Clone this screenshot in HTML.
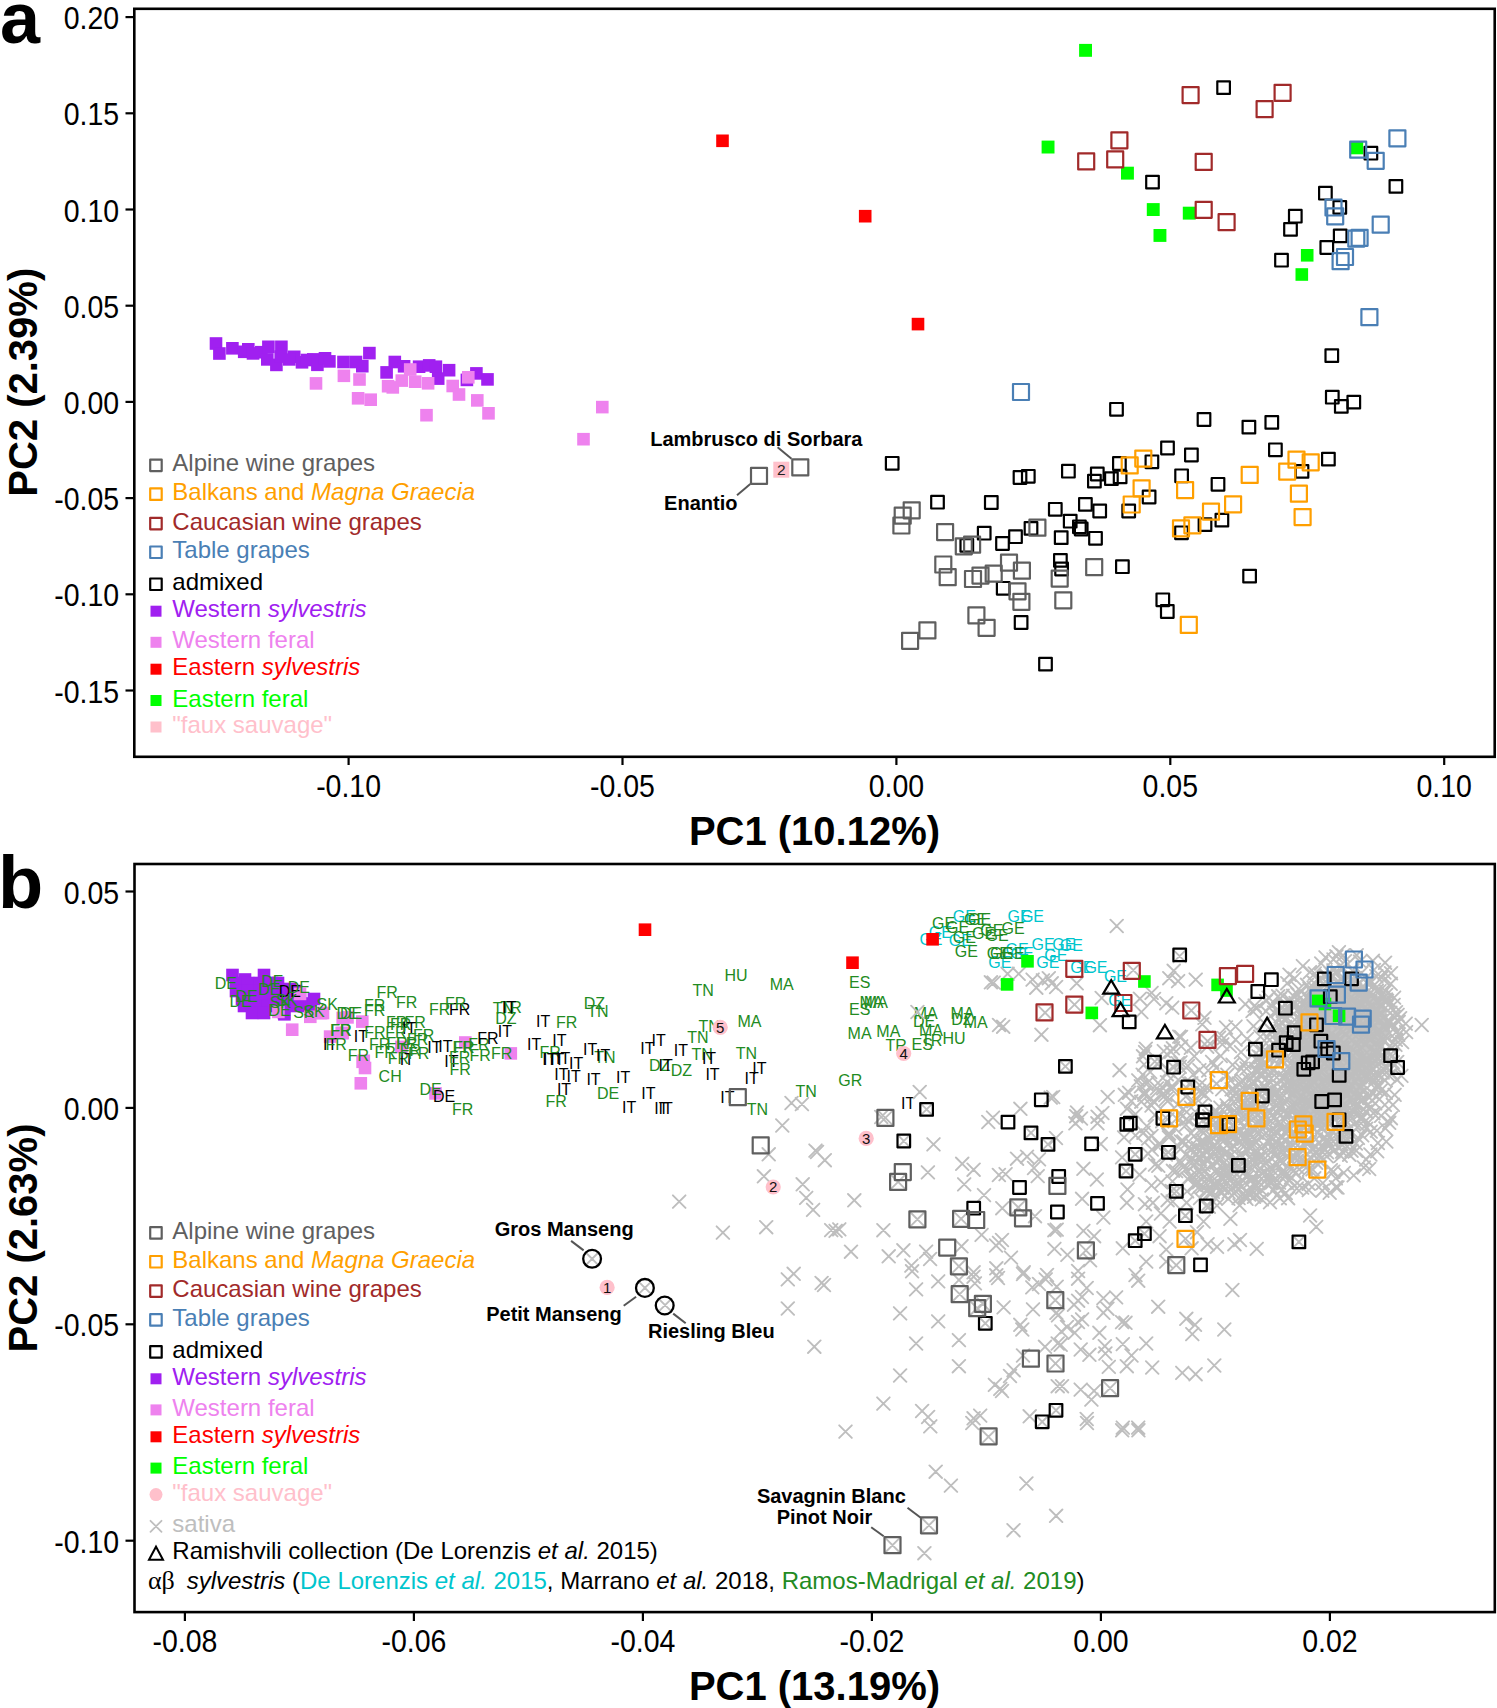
<!DOCTYPE html>
<html><head><meta charset="utf-8"><style>
html,body{margin:0;padding:0;background:#fff;}
svg{display:block;font-family:"Liberation Sans", sans-serif;}
</style></head><body>
<svg width="1497" height="1708" viewBox="0 0 1497 1708">
<rect width="1497" height="1708" fill="#fff"/>
<text x="0" y="42.5" font-size="72" fill="#000" text-anchor="start" font-weight="bold" font-style="normal" >a</text>
<text x="-2" y="907.5" font-size="74" fill="#000" text-anchor="start" font-weight="bold" font-style="normal" >b</text>
<rect x="134.3" y="8.8" width="1360.4" height="748" fill="none" stroke="#000" stroke-width="2.6"/>
<line x1="125.5" x2="134" y1="17.1" y2="17.1" stroke="#000" stroke-width="2.2"/>
<text x="0" y="0" font-size="28.5" text-anchor="end" transform="translate(119.2,29.1) scale(1,1.1)">0.20</text>
<line x1="125.5" x2="134" y1="113.3" y2="113.3" stroke="#000" stroke-width="2.2"/>
<text x="0" y="0" font-size="28.5" text-anchor="end" transform="translate(119.2,125.3) scale(1,1.1)">0.15</text>
<line x1="125.5" x2="134" y1="209.5" y2="209.5" stroke="#000" stroke-width="2.2"/>
<text x="0" y="0" font-size="28.5" text-anchor="end" transform="translate(119.2,221.5) scale(1,1.1)">0.10</text>
<line x1="125.5" x2="134" y1="305.7" y2="305.7" stroke="#000" stroke-width="2.2"/>
<text x="0" y="0" font-size="28.5" text-anchor="end" transform="translate(119.2,317.7) scale(1,1.1)">0.05</text>
<line x1="125.5" x2="134" y1="401.9" y2="401.9" stroke="#000" stroke-width="2.2"/>
<text x="0" y="0" font-size="28.5" text-anchor="end" transform="translate(119.2,413.9) scale(1,1.1)">0.00</text>
<line x1="125.5" x2="134" y1="498.1" y2="498.1" stroke="#000" stroke-width="2.2"/>
<text x="0" y="0" font-size="28.5" text-anchor="end" transform="translate(119.2,510.1) scale(1,1.1)">-0.05</text>
<line x1="125.5" x2="134" y1="594.3" y2="594.3" stroke="#000" stroke-width="2.2"/>
<text x="0" y="0" font-size="28.5" text-anchor="end" transform="translate(119.2,606.3) scale(1,1.1)">-0.10</text>
<line x1="125.5" x2="134" y1="690.5" y2="690.5" stroke="#000" stroke-width="2.2"/>
<text x="0" y="0" font-size="28.5" text-anchor="end" transform="translate(119.2,702.5) scale(1,1.1)">-0.15</text>
<line x1="348.6" x2="348.6" y1="757" y2="765" stroke="#000" stroke-width="2.2"/>
<text x="0" y="0" font-size="28.5" text-anchor="middle" transform="translate(348.6,797.3) scale(1,1.1)">-0.10</text>
<line x1="622.5" x2="622.5" y1="757" y2="765" stroke="#000" stroke-width="2.2"/>
<text x="0" y="0" font-size="28.5" text-anchor="middle" transform="translate(622.5,797.3) scale(1,1.1)">-0.05</text>
<line x1="896.4" x2="896.4" y1="757" y2="765" stroke="#000" stroke-width="2.2"/>
<text x="0" y="0" font-size="28.5" text-anchor="middle" transform="translate(896.4,797.3) scale(1,1.1)">0.00</text>
<line x1="1170.3" x2="1170.3" y1="757" y2="765" stroke="#000" stroke-width="2.2"/>
<text x="0" y="0" font-size="28.5" text-anchor="middle" transform="translate(1170.3,797.3) scale(1,1.1)">0.05</text>
<line x1="1444.2" x2="1444.2" y1="757" y2="765" stroke="#000" stroke-width="2.2"/>
<text x="0" y="0" font-size="28.5" text-anchor="middle" transform="translate(1444.2,797.3) scale(1,1.1)">0.10</text>
<text x="814.5" y="844.6" font-size="40" fill="#000" text-anchor="middle" font-weight="bold" font-style="normal" >PC1 (10.12%)</text>
<text x="0" y="0" font-size="40" font-weight="bold" text-anchor="middle" transform="translate(37.1,382.3) rotate(-90)">PC2 (2.39%)</text>
<rect x="134.5" y="864" width="1360.3" height="748.1" fill="none" stroke="#000" stroke-width="2.6"/>
<line x1="125.5" x2="134" y1="891.5" y2="891.5" stroke="#000" stroke-width="2.2"/>
<text x="0" y="0" font-size="28.5" text-anchor="end" transform="translate(119.2,903.5) scale(1,1.1)">0.05</text>
<line x1="125.5" x2="134" y1="1107.9" y2="1107.9" stroke="#000" stroke-width="2.2"/>
<text x="0" y="0" font-size="28.5" text-anchor="end" transform="translate(119.2,1119.9) scale(1,1.1)">0.00</text>
<line x1="125.5" x2="134" y1="1324.3" y2="1324.3" stroke="#000" stroke-width="2.2"/>
<text x="0" y="0" font-size="28.5" text-anchor="end" transform="translate(119.2,1336.3) scale(1,1.1)">-0.05</text>
<line x1="125.5" x2="134" y1="1540.7" y2="1540.7" stroke="#000" stroke-width="2.2"/>
<text x="0" y="0" font-size="28.5" text-anchor="end" transform="translate(119.2,1552.7) scale(1,1.1)">-0.10</text>
<line x1="184.9" x2="184.9" y1="1613" y2="1621" stroke="#000" stroke-width="2.2"/>
<text x="0" y="0" font-size="28.5" text-anchor="middle" transform="translate(184.9,1652.3) scale(1,1.1)">-0.08</text>
<line x1="413.9" x2="413.9" y1="1613" y2="1621" stroke="#000" stroke-width="2.2"/>
<text x="0" y="0" font-size="28.5" text-anchor="middle" transform="translate(413.9,1652.3) scale(1,1.1)">-0.06</text>
<line x1="642.9" x2="642.9" y1="1613" y2="1621" stroke="#000" stroke-width="2.2"/>
<text x="0" y="0" font-size="28.5" text-anchor="middle" transform="translate(642.9,1652.3) scale(1,1.1)">-0.04</text>
<line x1="871.9" x2="871.9" y1="1613" y2="1621" stroke="#000" stroke-width="2.2"/>
<text x="0" y="0" font-size="28.5" text-anchor="middle" transform="translate(871.9,1652.3) scale(1,1.1)">-0.02</text>
<line x1="1100.9" x2="1100.9" y1="1613" y2="1621" stroke="#000" stroke-width="2.2"/>
<text x="0" y="0" font-size="28.5" text-anchor="middle" transform="translate(1100.9,1652.3) scale(1,1.1)">0.00</text>
<line x1="1329.9" x2="1329.9" y1="1613" y2="1621" stroke="#000" stroke-width="2.2"/>
<text x="0" y="0" font-size="28.5" text-anchor="middle" transform="translate(1329.9,1652.3) scale(1,1.1)">0.02</text>
<text x="814.5" y="1700" font-size="40" fill="#000" text-anchor="middle" font-weight="bold" font-style="normal" >PC1 (13.19%)</text>
<text x="0" y="0" font-size="40" font-weight="bold" text-anchor="middle" transform="translate(36.5,1238) rotate(-90)">PC2 (2.63%)</text>
<rect x="885.9" y="457.0" width="12.6" height="12.6" fill="none" stroke="#000000" stroke-width="2.2" stroke-linejoin="round"/>
<rect x="1013.7" y="471.2" width="12.6" height="12.6" fill="none" stroke="#000000" stroke-width="2.2" stroke-linejoin="round"/>
<rect x="1022.0" y="470.0" width="12.6" height="12.6" fill="none" stroke="#000000" stroke-width="2.2" stroke-linejoin="round"/>
<rect x="931.2" y="495.9" width="12.6" height="12.6" fill="none" stroke="#000000" stroke-width="2.2" stroke-linejoin="round"/>
<rect x="985.0" y="496.2" width="12.6" height="12.6" fill="none" stroke="#000000" stroke-width="2.2" stroke-linejoin="round"/>
<rect x="1049.0" y="503.0" width="12.6" height="12.6" fill="none" stroke="#000000" stroke-width="2.2" stroke-linejoin="round"/>
<rect x="977.9" y="526.9" width="12.6" height="12.6" fill="none" stroke="#000000" stroke-width="2.2" stroke-linejoin="round"/>
<rect x="996.2" y="537.2" width="12.6" height="12.6" fill="none" stroke="#000000" stroke-width="2.2" stroke-linejoin="round"/>
<rect x="1009.2" y="530.4" width="12.6" height="12.6" fill="none" stroke="#000000" stroke-width="2.2" stroke-linejoin="round"/>
<rect x="1024.7" y="522.1" width="12.6" height="12.6" fill="none" stroke="#000000" stroke-width="2.2" stroke-linejoin="round"/>
<rect x="960.5" y="539.1" width="12.6" height="12.6" fill="none" stroke="#000000" stroke-width="2.2" stroke-linejoin="round"/>
<rect x="996.9" y="582.0" width="12.6" height="12.6" fill="none" stroke="#000000" stroke-width="2.2" stroke-linejoin="round"/>
<rect x="1014.8" y="616.2" width="12.6" height="12.6" fill="none" stroke="#000000" stroke-width="2.2" stroke-linejoin="round"/>
<rect x="1039.2" y="657.8" width="12.6" height="12.6" fill="none" stroke="#000000" stroke-width="2.2" stroke-linejoin="round"/>
<rect x="1110.2" y="403.0" width="12.6" height="12.6" fill="none" stroke="#000000" stroke-width="2.2" stroke-linejoin="round"/>
<rect x="1197.7" y="413.2" width="12.6" height="12.6" fill="none" stroke="#000000" stroke-width="2.2" stroke-linejoin="round"/>
<rect x="1161.2" y="441.7" width="12.6" height="12.6" fill="none" stroke="#000000" stroke-width="2.2" stroke-linejoin="round"/>
<rect x="1185.1" y="448.7" width="12.6" height="12.6" fill="none" stroke="#000000" stroke-width="2.2" stroke-linejoin="round"/>
<rect x="1113.1" y="457.2" width="12.6" height="12.6" fill="none" stroke="#000000" stroke-width="2.2" stroke-linejoin="round"/>
<rect x="1145.6" y="455.5" width="12.6" height="12.6" fill="none" stroke="#000000" stroke-width="2.2" stroke-linejoin="round"/>
<rect x="1062.1" y="464.9" width="12.6" height="12.6" fill="none" stroke="#000000" stroke-width="2.2" stroke-linejoin="round"/>
<rect x="1091.0" y="467.7" width="12.6" height="12.6" fill="none" stroke="#000000" stroke-width="2.2" stroke-linejoin="round"/>
<rect x="1088.1" y="474.8" width="12.6" height="12.6" fill="none" stroke="#000000" stroke-width="2.2" stroke-linejoin="round"/>
<rect x="1105.1" y="472.3" width="12.6" height="12.6" fill="none" stroke="#000000" stroke-width="2.2" stroke-linejoin="round"/>
<rect x="1113.8" y="470.6" width="12.6" height="12.6" fill="none" stroke="#000000" stroke-width="2.2" stroke-linejoin="round"/>
<rect x="1175.3" y="469.5" width="12.6" height="12.6" fill="none" stroke="#000000" stroke-width="2.2" stroke-linejoin="round"/>
<rect x="1211.7" y="478.0" width="12.6" height="12.6" fill="none" stroke="#000000" stroke-width="2.2" stroke-linejoin="round"/>
<rect x="1142.8" y="490.7" width="12.6" height="12.6" fill="none" stroke="#000000" stroke-width="2.2" stroke-linejoin="round"/>
<rect x="1079.1" y="498.1" width="12.6" height="12.6" fill="none" stroke="#000000" stroke-width="2.2" stroke-linejoin="round"/>
<rect x="1093.4" y="504.7" width="12.6" height="12.6" fill="none" stroke="#000000" stroke-width="2.2" stroke-linejoin="round"/>
<rect x="1063.9" y="514.9" width="12.6" height="12.6" fill="none" stroke="#000000" stroke-width="2.2" stroke-linejoin="round"/>
<rect x="1073.1" y="520.5" width="12.6" height="12.6" fill="none" stroke="#000000" stroke-width="2.2" stroke-linejoin="round"/>
<rect x="1074.9" y="522.7" width="12.6" height="12.6" fill="none" stroke="#000000" stroke-width="2.2" stroke-linejoin="round"/>
<rect x="1122.4" y="504.7" width="12.6" height="12.6" fill="none" stroke="#000000" stroke-width="2.2" stroke-linejoin="round"/>
<rect x="1054.9" y="531.3" width="12.6" height="12.6" fill="none" stroke="#000000" stroke-width="2.2" stroke-linejoin="round"/>
<rect x="1089.2" y="532.0" width="12.6" height="12.6" fill="none" stroke="#000000" stroke-width="2.2" stroke-linejoin="round"/>
<rect x="1054.1" y="554.1" width="12.6" height="12.6" fill="none" stroke="#000000" stroke-width="2.2" stroke-linejoin="round"/>
<rect x="1055.3" y="562.7" width="12.6" height="12.6" fill="none" stroke="#000000" stroke-width="2.2" stroke-linejoin="round"/>
<rect x="1116.1" y="560.4" width="12.6" height="12.6" fill="none" stroke="#000000" stroke-width="2.2" stroke-linejoin="round"/>
<rect x="1156.5" y="593.5" width="12.6" height="12.6" fill="none" stroke="#000000" stroke-width="2.2" stroke-linejoin="round"/>
<rect x="1161.0" y="605.2" width="12.6" height="12.6" fill="none" stroke="#000000" stroke-width="2.2" stroke-linejoin="round"/>
<rect x="1175.2" y="526.5" width="12.6" height="12.6" fill="none" stroke="#000000" stroke-width="2.2" stroke-linejoin="round"/>
<rect x="1198.7" y="518.3" width="12.6" height="12.6" fill="none" stroke="#000000" stroke-width="2.2" stroke-linejoin="round"/>
<rect x="1215.6" y="513.8" width="12.6" height="12.6" fill="none" stroke="#000000" stroke-width="2.2" stroke-linejoin="round"/>
<rect x="1325.5" y="349.3" width="12.6" height="12.6" fill="none" stroke="#000000" stroke-width="2.2" stroke-linejoin="round"/>
<rect x="1326.0" y="390.9" width="12.6" height="12.6" fill="none" stroke="#000000" stroke-width="2.2" stroke-linejoin="round"/>
<rect x="1335.0" y="400.1" width="12.6" height="12.6" fill="none" stroke="#000000" stroke-width="2.2" stroke-linejoin="round"/>
<rect x="1347.5" y="395.8" width="12.6" height="12.6" fill="none" stroke="#000000" stroke-width="2.2" stroke-linejoin="round"/>
<rect x="1242.6" y="420.8" width="12.6" height="12.6" fill="none" stroke="#000000" stroke-width="2.2" stroke-linejoin="round"/>
<rect x="1265.5" y="416.1" width="12.6" height="12.6" fill="none" stroke="#000000" stroke-width="2.2" stroke-linejoin="round"/>
<rect x="1269.1" y="443.5" width="12.6" height="12.6" fill="none" stroke="#000000" stroke-width="2.2" stroke-linejoin="round"/>
<rect x="1322.1" y="452.8" width="12.6" height="12.6" fill="none" stroke="#000000" stroke-width="2.2" stroke-linejoin="round"/>
<rect x="1295.7" y="465.1" width="12.6" height="12.6" fill="none" stroke="#000000" stroke-width="2.2" stroke-linejoin="round"/>
<rect x="1243.3" y="569.8" width="12.6" height="12.6" fill="none" stroke="#000000" stroke-width="2.2" stroke-linejoin="round"/>
<rect x="903.7" y="502.3" width="16" height="16" fill="none" stroke="#5f5f5f" stroke-width="2.2" stroke-linejoin="round"/>
<rect x="894.7" y="507.7" width="16" height="16" fill="none" stroke="#5f5f5f" stroke-width="2.2" stroke-linejoin="round"/>
<rect x="893.4" y="517.5" width="16" height="16" fill="none" stroke="#5f5f5f" stroke-width="2.2" stroke-linejoin="round"/>
<rect x="937.1" y="524.1" width="16" height="16" fill="none" stroke="#5f5f5f" stroke-width="2.2" stroke-linejoin="round"/>
<rect x="955.8" y="538.3" width="16" height="16" fill="none" stroke="#5f5f5f" stroke-width="2.2" stroke-linejoin="round"/>
<rect x="964.1" y="536.7" width="16" height="16" fill="none" stroke="#5f5f5f" stroke-width="2.2" stroke-linejoin="round"/>
<rect x="1029.4" y="519.7" width="16" height="16" fill="none" stroke="#5f5f5f" stroke-width="2.2" stroke-linejoin="round"/>
<rect x="935.3" y="556.5" width="16" height="16" fill="none" stroke="#5f5f5f" stroke-width="2.2" stroke-linejoin="round"/>
<rect x="939.7" y="569.2" width="16" height="16" fill="none" stroke="#5f5f5f" stroke-width="2.2" stroke-linejoin="round"/>
<rect x="965.0" y="571.0" width="16" height="16" fill="none" stroke="#5f5f5f" stroke-width="2.2" stroke-linejoin="round"/>
<rect x="972.5" y="567.6" width="16" height="16" fill="none" stroke="#5f5f5f" stroke-width="2.2" stroke-linejoin="round"/>
<rect x="985.7" y="565.7" width="16" height="16" fill="none" stroke="#5f5f5f" stroke-width="2.2" stroke-linejoin="round"/>
<rect x="1001.0" y="554.7" width="16" height="16" fill="none" stroke="#5f5f5f" stroke-width="2.2" stroke-linejoin="round"/>
<rect x="1013.9" y="562.7" width="16" height="16" fill="none" stroke="#5f5f5f" stroke-width="2.2" stroke-linejoin="round"/>
<rect x="1009.5" y="583.3" width="16" height="16" fill="none" stroke="#5f5f5f" stroke-width="2.2" stroke-linejoin="round"/>
<rect x="1013.4" y="593.8" width="16" height="16" fill="none" stroke="#5f5f5f" stroke-width="2.2" stroke-linejoin="round"/>
<rect x="968.4" y="607.3" width="16" height="16" fill="none" stroke="#5f5f5f" stroke-width="2.2" stroke-linejoin="round"/>
<rect x="978.6" y="619.8" width="16" height="16" fill="none" stroke="#5f5f5f" stroke-width="2.2" stroke-linejoin="round"/>
<rect x="919.4" y="622.4" width="16" height="16" fill="none" stroke="#5f5f5f" stroke-width="2.2" stroke-linejoin="round"/>
<rect x="902.1" y="632.8" width="16" height="16" fill="none" stroke="#5f5f5f" stroke-width="2.2" stroke-linejoin="round"/>
<rect x="1086.2" y="559.2" width="16" height="16" fill="none" stroke="#5f5f5f" stroke-width="2.2" stroke-linejoin="round"/>
<rect x="1051.7" y="570.6" width="16" height="16" fill="none" stroke="#5f5f5f" stroke-width="2.2" stroke-linejoin="round"/>
<rect x="1055.3" y="592.3" width="16" height="16" fill="none" stroke="#5f5f5f" stroke-width="2.2" stroke-linejoin="round"/>
<rect x="1135.3" y="450.6" width="16" height="16" fill="none" stroke="#ff9f00" stroke-width="2.2" stroke-linejoin="round"/>
<rect x="1121.7" y="457.4" width="16" height="16" fill="none" stroke="#ff9f00" stroke-width="2.2" stroke-linejoin="round"/>
<rect x="1133.6" y="480.3" width="16" height="16" fill="none" stroke="#ff9f00" stroke-width="2.2" stroke-linejoin="round"/>
<rect x="1123.7" y="496.5" width="16" height="16" fill="none" stroke="#ff9f00" stroke-width="2.2" stroke-linejoin="round"/>
<rect x="1177.1" y="482.1" width="16" height="16" fill="none" stroke="#ff9f00" stroke-width="2.2" stroke-linejoin="round"/>
<rect x="1203.0" y="503.7" width="16" height="16" fill="none" stroke="#ff9f00" stroke-width="2.2" stroke-linejoin="round"/>
<rect x="1184.4" y="517.3" width="16" height="16" fill="none" stroke="#ff9f00" stroke-width="2.2" stroke-linejoin="round"/>
<rect x="1173.0" y="520.4" width="16" height="16" fill="none" stroke="#ff9f00" stroke-width="2.2" stroke-linejoin="round"/>
<rect x="1180.8" y="616.9" width="16" height="16" fill="none" stroke="#ff9f00" stroke-width="2.2" stroke-linejoin="round"/>
<rect x="1288.5" y="451.7" width="16" height="16" fill="none" stroke="#ff9f00" stroke-width="2.2" stroke-linejoin="round"/>
<rect x="1302.7" y="454.3" width="16" height="16" fill="none" stroke="#ff9f00" stroke-width="2.2" stroke-linejoin="round"/>
<rect x="1241.7" y="466.9" width="16" height="16" fill="none" stroke="#ff9f00" stroke-width="2.2" stroke-linejoin="round"/>
<rect x="1279.2" y="463.6" width="16" height="16" fill="none" stroke="#ff9f00" stroke-width="2.2" stroke-linejoin="round"/>
<rect x="1290.9" y="485.7" width="16" height="16" fill="none" stroke="#ff9f00" stroke-width="2.2" stroke-linejoin="round"/>
<rect x="1294.6" y="509.1" width="16" height="16" fill="none" stroke="#ff9f00" stroke-width="2.2" stroke-linejoin="round"/>
<rect x="1225.1" y="496.3" width="16" height="16" fill="none" stroke="#ff9f00" stroke-width="2.2" stroke-linejoin="round"/>
<rect x="209.7" y="337.2" width="12.6" height="12.6" fill="#a020f0"/>
<rect x="213.1" y="347.2" width="12.6" height="12.6" fill="#a020f0"/>
<rect x="226.1" y="342.0" width="12.6" height="12.6" fill="#a020f0"/>
<rect x="237.9" y="345.5" width="12.6" height="12.6" fill="#a020f0"/>
<rect x="242.0" y="343.0" width="12.6" height="12.6" fill="#a020f0"/>
<rect x="246.7" y="347.1" width="12.6" height="12.6" fill="#a020f0"/>
<rect x="255.0" y="345.9" width="12.6" height="12.6" fill="#a020f0"/>
<rect x="262.1" y="340.5" width="12.6" height="12.6" fill="#a020f0"/>
<rect x="275.1" y="340.5" width="12.6" height="12.6" fill="#a020f0"/>
<rect x="261.0" y="353.1" width="12.6" height="12.6" fill="#a020f0"/>
<rect x="270.1" y="358.6" width="12.6" height="12.6" fill="#a020f0"/>
<rect x="274.4" y="350.3" width="12.6" height="12.6" fill="#a020f0"/>
<rect x="287.9" y="350.5" width="12.6" height="12.6" fill="#a020f0"/>
<rect x="283.0" y="353.1" width="12.6" height="12.6" fill="#a020f0"/>
<rect x="295.7" y="356.0" width="12.6" height="12.6" fill="#a020f0"/>
<rect x="300.7" y="353.7" width="12.6" height="12.6" fill="#a020f0"/>
<rect x="307.0" y="353.1" width="12.6" height="12.6" fill="#a020f0"/>
<rect x="311.1" y="358.5" width="12.6" height="12.6" fill="#a020f0"/>
<rect x="318.7" y="352.0" width="12.6" height="12.6" fill="#a020f0"/>
<rect x="323.1" y="355.1" width="12.6" height="12.6" fill="#a020f0"/>
<rect x="337.2" y="355.7" width="12.6" height="12.6" fill="#a020f0"/>
<rect x="349.7" y="355.7" width="12.6" height="12.6" fill="#a020f0"/>
<rect x="356.0" y="359.9" width="12.6" height="12.6" fill="#a020f0"/>
<rect x="363.1" y="346.8" width="12.6" height="12.6" fill="#a020f0"/>
<rect x="380.3" y="366.1" width="12.6" height="12.6" fill="#a020f0"/>
<rect x="388.5" y="355.7" width="12.6" height="12.6" fill="#a020f0"/>
<rect x="397.8" y="360.0" width="12.6" height="12.6" fill="#a020f0"/>
<rect x="412.8" y="360.4" width="12.6" height="12.6" fill="#a020f0"/>
<rect x="422.9" y="359.1" width="12.6" height="12.6" fill="#a020f0"/>
<rect x="429.6" y="360.4" width="12.6" height="12.6" fill="#a020f0"/>
<rect x="442.8" y="363.9" width="12.6" height="12.6" fill="#a020f0"/>
<rect x="431.9" y="372.3" width="12.6" height="12.6" fill="#a020f0"/>
<rect x="460.6" y="373.6" width="12.6" height="12.6" fill="#a020f0"/>
<rect x="470.1" y="367.1" width="12.6" height="12.6" fill="#a020f0"/>
<rect x="481.2" y="373.1" width="12.6" height="12.6" fill="#a020f0"/>
<rect x="309.7" y="377.1" width="12.6" height="12.6" fill="#ee82ee"/>
<rect x="337.6" y="369.5" width="12.6" height="12.6" fill="#ee82ee"/>
<rect x="353.2" y="373.2" width="12.6" height="12.6" fill="#ee82ee"/>
<rect x="351.8" y="392.0" width="12.6" height="12.6" fill="#ee82ee"/>
<rect x="364.4" y="393.4" width="12.6" height="12.6" fill="#ee82ee"/>
<rect x="381.8" y="379.9" width="12.6" height="12.6" fill="#ee82ee"/>
<rect x="386.5" y="381.1" width="12.6" height="12.6" fill="#ee82ee"/>
<rect x="395.5" y="374.3" width="12.6" height="12.6" fill="#ee82ee"/>
<rect x="403.9" y="363.2" width="12.6" height="12.6" fill="#ee82ee"/>
<rect x="408.9" y="375.4" width="12.6" height="12.6" fill="#ee82ee"/>
<rect x="421.8" y="377.0" width="12.6" height="12.6" fill="#ee82ee"/>
<rect x="420.2" y="408.9" width="12.6" height="12.6" fill="#ee82ee"/>
<rect x="446.4" y="379.7" width="12.6" height="12.6" fill="#ee82ee"/>
<rect x="452.7" y="388.2" width="12.6" height="12.6" fill="#ee82ee"/>
<rect x="462.0" y="371.0" width="12.6" height="12.6" fill="#ee82ee"/>
<rect x="471.0" y="394.1" width="12.6" height="12.6" fill="#ee82ee"/>
<rect x="482.2" y="407.0" width="12.6" height="12.6" fill="#ee82ee"/>
<rect x="596.0" y="400.8" width="12.6" height="12.6" fill="#ee82ee"/>
<rect x="577.2" y="432.9" width="12.6" height="12.6" fill="#ee82ee"/>
<rect x="716.2" y="134.5" width="12.6" height="12.6" fill="#ff0000"/>
<rect x="858.9" y="209.9" width="12.6" height="12.6" fill="#ff0000"/>
<rect x="911.7" y="317.8" width="12.6" height="12.6" fill="#ff0000"/>
<rect x="1079.1" y="43.9" width="12.9" height="12.9" fill="#00ff00"/>
<rect x="1041.6" y="140.6" width="12.9" height="12.9" fill="#00ff00"/>
<rect x="1121.0" y="166.7" width="12.9" height="12.9" fill="#00ff00"/>
<rect x="1146.8" y="203.1" width="12.9" height="12.9" fill="#00ff00"/>
<rect x="1182.8" y="206.7" width="12.9" height="12.9" fill="#00ff00"/>
<rect x="1153.5" y="229.0" width="12.9" height="12.9" fill="#00ff00"/>
<rect x="1350.6" y="141.7" width="12.6" height="12.6" fill="#00ff00"/>
<rect x="1300.9" y="249.0" width="12.6" height="12.6" fill="#00ff00"/>
<rect x="1295.5" y="268.2" width="12.6" height="12.6" fill="#00ff00"/>
<rect x="1182.6" y="87.1" width="16" height="16" fill="none" stroke="#a12a2a" stroke-width="2.2" stroke-linejoin="round"/>
<rect x="1111.4" y="132.3" width="16" height="16" fill="none" stroke="#a12a2a" stroke-width="2.2" stroke-linejoin="round"/>
<rect x="1078.2" y="153.4" width="16" height="16" fill="none" stroke="#a12a2a" stroke-width="2.2" stroke-linejoin="round"/>
<rect x="1107.2" y="151.4" width="16" height="16" fill="none" stroke="#a12a2a" stroke-width="2.2" stroke-linejoin="round"/>
<rect x="1195.7" y="153.9" width="16" height="16" fill="none" stroke="#a12a2a" stroke-width="2.2" stroke-linejoin="round"/>
<rect x="1195.7" y="201.8" width="16" height="16" fill="none" stroke="#a12a2a" stroke-width="2.2" stroke-linejoin="round"/>
<rect x="1218.6" y="214.2" width="16" height="16" fill="none" stroke="#a12a2a" stroke-width="2.2" stroke-linejoin="round"/>
<rect x="1274.6" y="84.8" width="16" height="16" fill="none" stroke="#a12a2a" stroke-width="2.2" stroke-linejoin="round"/>
<rect x="1256.6" y="101.2" width="16" height="16" fill="none" stroke="#a12a2a" stroke-width="2.2" stroke-linejoin="round"/>
<rect x="1217.3" y="81.3" width="12.6" height="12.6" fill="none" stroke="#000000" stroke-width="2.2" stroke-linejoin="round"/>
<rect x="1146.2" y="175.8" width="12.6" height="12.6" fill="none" stroke="#000000" stroke-width="2.2" stroke-linejoin="round"/>
<rect x="1364.6" y="146.9" width="12.6" height="12.6" fill="none" stroke="#000000" stroke-width="2.2" stroke-linejoin="round"/>
<rect x="1389.6" y="180.1" width="12.6" height="12.6" fill="none" stroke="#000000" stroke-width="2.2" stroke-linejoin="round"/>
<rect x="1319.1" y="186.9" width="12.6" height="12.6" fill="none" stroke="#000000" stroke-width="2.2" stroke-linejoin="round"/>
<rect x="1333.5" y="201.1" width="12.6" height="12.6" fill="none" stroke="#000000" stroke-width="2.2" stroke-linejoin="round"/>
<rect x="1289.0" y="209.9" width="12.6" height="12.6" fill="none" stroke="#000000" stroke-width="2.2" stroke-linejoin="round"/>
<rect x="1284.2" y="223.1" width="12.6" height="12.6" fill="none" stroke="#000000" stroke-width="2.2" stroke-linejoin="round"/>
<rect x="1333.9" y="229.6" width="12.6" height="12.6" fill="none" stroke="#000000" stroke-width="2.2" stroke-linejoin="round"/>
<rect x="1320.5" y="241.2" width="12.6" height="12.6" fill="none" stroke="#000000" stroke-width="2.2" stroke-linejoin="round"/>
<rect x="1275.2" y="253.9" width="12.6" height="12.6" fill="none" stroke="#000000" stroke-width="2.2" stroke-linejoin="round"/>
<rect x="1013.0" y="384.0" width="16" height="16" fill="none" stroke="#4a7fb5" stroke-width="2.2" stroke-linejoin="round"/>
<rect x="1389.4" y="130.3" width="16" height="16" fill="none" stroke="#4a7fb5" stroke-width="2.2" stroke-linejoin="round"/>
<rect x="1350.2" y="141.7" width="16" height="16" fill="none" stroke="#4a7fb5" stroke-width="2.2" stroke-linejoin="round"/>
<rect x="1367.7" y="152.8" width="16" height="16" fill="none" stroke="#4a7fb5" stroke-width="2.2" stroke-linejoin="round"/>
<rect x="1325.5" y="199.5" width="16" height="16" fill="none" stroke="#4a7fb5" stroke-width="2.2" stroke-linejoin="round"/>
<rect x="1327.2" y="208.3" width="16" height="16" fill="none" stroke="#4a7fb5" stroke-width="2.2" stroke-linejoin="round"/>
<rect x="1372.7" y="216.7" width="16" height="16" fill="none" stroke="#4a7fb5" stroke-width="2.2" stroke-linejoin="round"/>
<rect x="1348.3" y="230.6" width="16" height="16" fill="none" stroke="#4a7fb5" stroke-width="2.2" stroke-linejoin="round"/>
<rect x="1351.6" y="229.8" width="16" height="16" fill="none" stroke="#4a7fb5" stroke-width="2.2" stroke-linejoin="round"/>
<rect x="1337.0" y="249.0" width="16" height="16" fill="none" stroke="#4a7fb5" stroke-width="2.2" stroke-linejoin="round"/>
<rect x="1332.6" y="253.2" width="16" height="16" fill="none" stroke="#4a7fb5" stroke-width="2.2" stroke-linejoin="round"/>
<rect x="1361.4" y="309.2" width="16" height="16" fill="none" stroke="#4a7fb5" stroke-width="2.2" stroke-linejoin="round"/>
<line x1="777.6" y1="447.3" x2="791.5" y2="458.8" stroke="#555" stroke-width="2"/>
<line x1="750.3" y1="484" x2="737" y2="495.2" stroke="#555" stroke-width="2"/>
<rect x="792.3" y="459.4" width="16" height="16" fill="none" stroke="#5f5f5f" stroke-width="2.2" stroke-linejoin="round"/>
<rect x="751.0" y="467.9" width="16" height="16" fill="none" stroke="#5f5f5f" stroke-width="2.2" stroke-linejoin="round"/>
<rect x="773.3" y="461.7" width="16" height="16" fill="#ffc0cb"/>
<text x="781.3" y="475.2" font-size="15.5" text-anchor="middle" fill="#222">2</text>
<text x="650.2" y="446" font-size="20" font-weight="bold">Lambrusco di Sorbara</text>
<text x="664.1" y="509.7" font-size="20" font-weight="bold">Enantio</text>
<rect x="226.2" y="968.7" width="12.6" height="12.6" fill="#a020f0"/>
<rect x="257.7" y="968.7" width="12.6" height="12.6" fill="#a020f0"/>
<rect x="238.7" y="973.2" width="12.6" height="12.6" fill="#a020f0"/>
<rect x="269.7" y="977.2" width="12.6" height="12.6" fill="#a020f0"/>
<rect x="283.7" y="982.7" width="12.6" height="12.6" fill="#a020f0"/>
<rect x="229.7" y="976.7" width="12.6" height="12.6" fill="#a020f0"/>
<rect x="241.7" y="976.7" width="12.6" height="12.6" fill="#a020f0"/>
<rect x="253.7" y="976.7" width="12.6" height="12.6" fill="#a020f0"/>
<rect x="265.7" y="976.7" width="12.6" height="12.6" fill="#a020f0"/>
<rect x="271.7" y="976.7" width="12.6" height="12.6" fill="#a020f0"/>
<rect x="229.7" y="984.7" width="12.6" height="12.6" fill="#a020f0"/>
<rect x="241.7" y="984.7" width="12.6" height="12.6" fill="#a020f0"/>
<rect x="253.7" y="984.7" width="12.6" height="12.6" fill="#a020f0"/>
<rect x="265.7" y="984.7" width="12.6" height="12.6" fill="#a020f0"/>
<rect x="277.7" y="984.7" width="12.6" height="12.6" fill="#a020f0"/>
<rect x="289.7" y="984.7" width="12.6" height="12.6" fill="#a020f0"/>
<rect x="235.7" y="992.7" width="12.6" height="12.6" fill="#a020f0"/>
<rect x="247.7" y="992.7" width="12.6" height="12.6" fill="#a020f0"/>
<rect x="259.7" y="992.7" width="12.6" height="12.6" fill="#a020f0"/>
<rect x="271.7" y="992.7" width="12.6" height="12.6" fill="#a020f0"/>
<rect x="283.7" y="992.7" width="12.6" height="12.6" fill="#a020f0"/>
<rect x="293.7" y="992.7" width="12.6" height="12.6" fill="#a020f0"/>
<rect x="237.7" y="999.7" width="12.6" height="12.6" fill="#a020f0"/>
<rect x="249.7" y="999.7" width="12.6" height="12.6" fill="#a020f0"/>
<rect x="261.7" y="999.7" width="12.6" height="12.6" fill="#a020f0"/>
<rect x="273.7" y="999.7" width="12.6" height="12.6" fill="#a020f0"/>
<rect x="285.7" y="999.7" width="12.6" height="12.6" fill="#a020f0"/>
<rect x="297.7" y="999.7" width="12.6" height="12.6" fill="#a020f0"/>
<rect x="303.7" y="999.7" width="12.6" height="12.6" fill="#a020f0"/>
<rect x="245.7" y="1006.7" width="12.6" height="12.6" fill="#a020f0"/>
<rect x="257.7" y="1006.7" width="12.6" height="12.6" fill="#a020f0"/>
<rect x="277.7" y="1006.7" width="12.6" height="12.6" fill="#a020f0"/>
<rect x="303.4" y="997.2" width="12.6" height="12.6" fill="#a020f0"/>
<rect x="307.7" y="992.7" width="12.6" height="12.6" fill="#a020f0"/>
<rect x="278.1" y="1008.0" width="12.6" height="12.6" fill="#a020f0"/>
<rect x="281.7" y="996.0" width="12.6" height="12.6" fill="#a020f0"/>
<rect x="293.7" y="987.6" width="12.6" height="12.6" fill="#ee82ee"/>
<rect x="272.1" y="1005.6" width="12.6" height="12.6" fill="#ee82ee"/>
<rect x="304.0" y="1010.5" width="12.6" height="12.6" fill="#ee82ee"/>
<rect x="314.8" y="1006.8" width="12.6" height="12.6" fill="#ee82ee"/>
<rect x="285.9" y="1023.4" width="12.6" height="12.6" fill="#ee82ee"/>
<rect x="336.4" y="1011.7" width="12.6" height="12.6" fill="#ee82ee"/>
<rect x="341.2" y="1011.1" width="12.6" height="12.6" fill="#ee82ee"/>
<rect x="356.0" y="1015.3" width="12.6" height="12.6" fill="#ee82ee"/>
<rect x="323.8" y="1030.3" width="12.6" height="12.6" fill="#ee82ee"/>
<rect x="336.4" y="1026.7" width="12.6" height="12.6" fill="#ee82ee"/>
<rect x="356.3" y="1055.5" width="12.6" height="12.6" fill="#ee82ee"/>
<rect x="357.5" y="1054.5" width="12.6" height="12.6" fill="#ee82ee"/>
<rect x="358.7" y="1061.7" width="12.6" height="12.6" fill="#ee82ee"/>
<rect x="354.5" y="1077.0" width="12.6" height="12.6" fill="#ee82ee"/>
<rect x="395.1" y="1040.6" width="12.6" height="12.6" fill="#ee82ee"/>
<rect x="459.0" y="1036.2" width="12.6" height="12.6" fill="#ee82ee"/>
<rect x="504.5" y="1047.1" width="12.6" height="12.6" fill="#ee82ee"/>
<rect x="429.2" y="1087.1" width="12.6" height="12.6" fill="#ee82ee"/>
<rect x="316.7" y="1006.7" width="12.6" height="12.6" fill="#ee82ee"/>
<rect x="335.4" y="1026.7" width="12.6" height="12.6" fill="#ee82ee"/>
<text x="214.7" y="988.9" font-size="16" fill="#228b22">DE</text>
<text x="229.5" y="1006.9" font-size="16" fill="#228b22">DE</text>
<text x="235.5" y="1001.5" font-size="16" fill="#228b22">DE</text>
<text x="261.3" y="987.1" font-size="16" fill="#228b22">DE</text>
<text x="258.3" y="994.9" font-size="16" fill="#228b22">DE</text>
<text x="278.8" y="997.3" font-size="16" fill="#000">DE</text>
<text x="287.8" y="992.5" font-size="16" fill="#228b22">DE</text>
<text x="269.7" y="1007.5" font-size="16" fill="#228b22">SK</text>
<text x="276" y="1006" font-size="16" fill="#228b22">SK</text>
<text x="268.5" y="1015.9" font-size="16" fill="#228b22">DE</text>
<text x="293.2" y="1018.3" font-size="16" fill="#228b22">SK</text>
<text x="303.4" y="1016.5" font-size="16" fill="#228b22">SK</text>
<text x="316.6" y="1009.9" font-size="16" fill="#228b22">SK</text>
<text x="336.5" y="1018.9" font-size="16" fill="#228b22">DE</text>
<text x="340" y="1019.1" font-size="16" fill="#228b22">DE</text>
<text x="329.9" y="1036.4" font-size="16" fill="#228b22">FR</text>
<text x="330.6" y="1036.4" font-size="16" fill="#228b22">FR</text>
<text x="353.8" y="1041.7" font-size="16" fill="#000">IT</text>
<text x="323" y="1050.3" font-size="16" fill="#000">IT</text>
<text x="325.4" y="1050.3" font-size="16" fill="#228b22">FR</text>
<text x="364.1" y="1010.5" font-size="16" fill="#228b22">FR</text>
<text x="363.9" y="1015.6" font-size="16" fill="#228b22">FR</text>
<text x="376.4" y="998.2" font-size="16" fill="#228b22">FR</text>
<text x="395.9" y="1007.8" font-size="16" fill="#228b22">FR</text>
<text x="347.8" y="1060.8" font-size="16" fill="#228b22">FR</text>
<text x="364.3" y="1037.7" font-size="16" fill="#228b22">FR</text>
<text x="385.9" y="1028" font-size="16" fill="#228b22">FR</text>
<text x="390.1" y="1029.8" font-size="16" fill="#228b22">FR</text>
<text x="404.5" y="1028" font-size="16" fill="#228b22">FR</text>
<text x="402.1" y="1034" font-size="16" fill="#000">IT</text>
<text x="385.2" y="1038.3" font-size="16" fill="#228b22">FR</text>
<text x="369" y="1049.7" font-size="16" fill="#228b22">FR</text>
<text x="386.5" y="1048.5" font-size="16" fill="#228b22">FR</text>
<text x="396.1" y="1048.5" font-size="16" fill="#228b22">FR</text>
<text x="406.9" y="1044.9" font-size="16" fill="#228b22">FR</text>
<text x="412.9" y="1040.7" font-size="16" fill="#228b22">FR</text>
<text x="374.4" y="1057.5" font-size="16" fill="#228b22">FR</text>
<text x="387.7" y="1064.1" font-size="16" fill="#228b22">FR</text>
<text x="399.7" y="1064.7" font-size="16" fill="#000">IT</text>
<text x="399.7" y="1055.7" font-size="16" fill="#228b22">FR</text>
<text x="408.1" y="1059.3" font-size="16" fill="#228b22">FR</text>
<text x="427.3" y="1053.3" font-size="16" fill="#000">IT</text>
<text x="438.2" y="1051.5" font-size="16" fill="#000">IT</text>
<text x="452.6" y="1052.7" font-size="16" fill="#228b22">FR</text>
<text x="453.3" y="1052.7" font-size="16" fill="#228b22">FR</text>
<text x="468.2" y="1049.7" font-size="16" fill="#228b22">FR</text>
<text x="469.4" y="1061.1" font-size="16" fill="#228b22">FR</text>
<text x="491.1" y="1058.7" font-size="16" fill="#228b22">FR</text>
<text x="477.2" y="1044.3" font-size="16" fill="#000">FR</text>
<text x="497.7" y="1037.1" font-size="16" fill="#000">IT</text>
<text x="495.3" y="1023.8" font-size="16" fill="#228b22">DZ</text>
<text x="527.1" y="1050.3" font-size="16" fill="#000">IT</text>
<text x="444.2" y="1067.1" font-size="16" fill="#000">IT</text>
<text x="449" y="1062.9" font-size="16" fill="#228b22">FR</text>
<text x="449.6" y="1074.9" font-size="16" fill="#228b22">FR</text>
<text x="378.6" y="1082.1" font-size="16" fill="#228b22">CH</text>
<text x="429.1" y="1014.8" font-size="16" fill="#228b22">FR</text>
<text x="449" y="1014.8" font-size="16" fill="#000">FR</text>
<text x="445" y="1008.7" font-size="16" fill="#228b22">FR</text>
<text x="419.5" y="1095" font-size="16" fill="#228b22">DE</text>
<text x="432.9" y="1102.4" font-size="16" fill="#000">DE</text>
<text x="452" y="1114.6" font-size="16" fill="#228b22">FR</text>
<text x="492.8" y="1013.9" font-size="16" fill="#228b22">TN</text>
<text x="500.6" y="1013" font-size="16" fill="#228b22">TR</text>
<text x="502" y="1013" font-size="16" fill="#000">IT</text>
<text x="542.3" y="1065.1" font-size="16" fill="#000">IT</text>
<text x="724.5" y="981.2" font-size="16" fill="#228b22">HU</text>
<text x="769.7" y="989.5" font-size="16" fill="#228b22">MA</text>
<text x="692.4" y="995.6" font-size="16" fill="#228b22">TN</text>
<text x="583.8" y="1008.6" font-size="16" fill="#228b22">DZ</text>
<text x="587.3" y="1017" font-size="16" fill="#228b22">TN</text>
<text x="536.1" y="1027.4" font-size="16" fill="#000">IT</text>
<text x="556" y="1028.3" font-size="16" fill="#228b22">FR</text>
<text x="737.5" y="1026.9" font-size="16" fill="#228b22">MA</text>
<text x="698.5" y="1032.1" font-size="16" fill="#228b22">TN</text>
<text x="687.2" y="1042.5" font-size="16" fill="#228b22">TN</text>
<text x="651.6" y="1046" font-size="16" fill="#000">IT</text>
<text x="640.3" y="1053.8" font-size="16" fill="#000">IT</text>
<text x="552.2" y="1045.6" font-size="16" fill="#000">IT</text>
<text x="583" y="1054.7" font-size="16" fill="#000">IT</text>
<text x="594.3" y="1062.5" font-size="16" fill="#228b22">TN</text>
<text x="596" y="1060.7" font-size="16" fill="#000">IT</text>
<text x="539.6" y="1058.1" font-size="16" fill="#228b22">FR</text>
<text x="543" y="1065.1" font-size="16" fill="#000">IT</text>
<text x="550" y="1065" font-size="16" fill="#000">IT</text>
<text x="556" y="1064" font-size="16" fill="#000">IT</text>
<text x="569.1" y="1068.5" font-size="16" fill="#000">IT</text>
<text x="554.3" y="1079.8" font-size="16" fill="#000">IT</text>
<text x="566.5" y="1082.4" font-size="16" fill="#000">IT</text>
<text x="586.4" y="1085" font-size="16" fill="#000">IT</text>
<text x="616" y="1083.3" font-size="16" fill="#000">IT</text>
<text x="673.8" y="1055.9" font-size="16" fill="#000">IT</text>
<text x="691.5" y="1060.4" font-size="16" fill="#228b22">TN</text>
<text x="701.9" y="1064.2" font-size="16" fill="#000">IT</text>
<text x="735.8" y="1058.6" font-size="16" fill="#228b22">TN</text>
<text x="649" y="1070.6" font-size="16" fill="#228b22">DZ</text>
<text x="658.5" y="1070.6" font-size="16" fill="#000">IT</text>
<text x="670.7" y="1076.4" font-size="16" fill="#228b22">DZ</text>
<text x="705.4" y="1079.5" font-size="16" fill="#000">IT</text>
<text x="752.3" y="1073.8" font-size="16" fill="#000">IT</text>
<text x="744.5" y="1084.2" font-size="16" fill="#000">IT</text>
<text x="556.9" y="1094.6" font-size="16" fill="#000">IT</text>
<text x="545.6" y="1107.3" font-size="16" fill="#228b22">FR</text>
<text x="596.9" y="1098.9" font-size="16" fill="#228b22">DE</text>
<text x="641.2" y="1098.9" font-size="16" fill="#000">IT</text>
<text x="622" y="1113.2" font-size="16" fill="#000">IT</text>
<text x="654.2" y="1113.7" font-size="16" fill="#000">IT</text>
<text x="658.5" y="1113.7" font-size="16" fill="#000">IT</text>
<text x="720.2" y="1103.3" font-size="16" fill="#000">IT</text>
<text x="746.7" y="1115.4" font-size="16" fill="#228b22">TN</text>
<text x="838.3" y="1086" font-size="16" fill="#228b22">GR</text>
<text x="795.5" y="1096.9" font-size="16" fill="#228b22">TN</text>
<text x="901" y="1109.4" font-size="16" fill="#000">IT</text>
<text x="849.1" y="987.7" font-size="16" fill="#228b22">ES</text>
<text x="849.1" y="1014.9" font-size="16" fill="#228b22">ES</text>
<text x="859.4" y="1007.6" font-size="16" fill="#228b22">MA</text>
<text x="863.8" y="1007.6" font-size="16" fill="#228b22">MA</text>
<text x="847.6" y="1039.2" font-size="16" fill="#228b22">MA</text>
<text x="876.3" y="1036.7" font-size="16" fill="#228b22">MA</text>
<text x="913.7" y="1018.6" font-size="16" fill="#228b22">MA</text>
<text x="913" y="1026.7" font-size="16" fill="#228b22">DE</text>
<text x="918.9" y="1035.8" font-size="16" fill="#228b22">MA</text>
<text x="950.5" y="1018.6" font-size="16" fill="#228b22">MA</text>
<text x="951.2" y="1025.2" font-size="16" fill="#228b22">DZ</text>
<text x="963.7" y="1028.1" font-size="16" fill="#228b22">MA</text>
<text x="942.4" y="1043.6" font-size="16" fill="#228b22">HU</text>
<text x="911.5" y="1049.5" font-size="16" fill="#228b22">ES</text>
<text x="920.9" y="1046.3" font-size="16" fill="#228b22">TR</text>
<text x="885.4" y="1051.1" font-size="16" fill="#228b22">TR</text>
<text x="952.8" y="922" font-size="16" fill="#00c5cd">GE</text>
<text x="1007.5" y="922" font-size="16" fill="#00c5cd">GE</text>
<text x="1020.9" y="922" font-size="16" fill="#00c5cd">GE</text>
<text x="928.7" y="938.1" font-size="16" fill="#00c5cd">GE</text>
<text x="919.4" y="944.8" font-size="16" fill="#00c5cd">GE</text>
<text x="948.8" y="946.1" font-size="16" fill="#00c5cd">GE</text>
<text x="1031.6" y="950.1" font-size="16" fill="#00c5cd">GE</text>
<text x="1052.3" y="950.1" font-size="16" fill="#00c5cd">GE</text>
<text x="1059.7" y="951.4" font-size="16" fill="#00c5cd">GE</text>
<text x="1005.5" y="955.4" font-size="16" fill="#00c5cd">GE</text>
<text x="988.2" y="967.5" font-size="16" fill="#00c5cd">GE</text>
<text x="1036.3" y="967.5" font-size="16" fill="#00c5cd">GE</text>
<text x="1044.3" y="960.8" font-size="16" fill="#00c5cd">GE</text>
<text x="1070.3" y="972.8" font-size="16" fill="#00c5cd">GE</text>
<text x="1084.4" y="972.8" font-size="16" fill="#00c5cd">GE</text>
<text x="1103.9" y="981.8" font-size="16" fill="#00c5cd">GE</text>
<text x="1108.3" y="1006.1" font-size="16" fill="#00c5cd">GE</text>
<text x="1010.6" y="959" font-size="16" fill="#00c5cd">GE</text>
<text x="932.1" y="929.4" font-size="16" fill="#228b22">GE</text>
<text x="946.1" y="932.7" font-size="16" fill="#228b22">GE</text>
<text x="964.1" y="924.7" font-size="16" fill="#228b22">GE</text>
<text x="968.1" y="924.7" font-size="16" fill="#228b22">GE</text>
<text x="972.1" y="938.7" font-size="16" fill="#228b22">GE</text>
<text x="980.2" y="936.1" font-size="16" fill="#228b22">GE</text>
<text x="985.5" y="941.4" font-size="16" fill="#228b22">GE</text>
<text x="1001.5" y="934.1" font-size="16" fill="#228b22">GE</text>
<text x="952.8" y="943.4" font-size="16" fill="#228b22">GE</text>
<text x="954.8" y="957.4" font-size="16" fill="#228b22">GE</text>
<text x="986.8" y="958.8" font-size="16" fill="#228b22">GE</text>
<text x="1001.5" y="958.8" font-size="16" fill="#228b22">GE</text>
<text x="990" y="959" font-size="16" fill="#228b22">GE</text>
<polygon points="1302,1000 1345,980 1383,998 1390,1030 1378,1062 1362,1090 1342,1115 1318,1128 1296,1122 1288,1095 1292,1052 1296,1022" fill="#c4c4c4"/>
<path d="M1323.9 966.5l12.6 12.6m-12.6 0l12.6-12.6M1327.1 964.1l12.6 12.6m-12.6 0l12.6-12.6M1331.3 965.5l12.6 12.6m-12.6 0l12.6-12.6M1337.1 962.1l12.6 12.6m-12.6 0l12.6-12.6M1312.3 973.6l12.6 12.6m-12.6 0l12.6-12.6M1318.4 969.9l12.6 12.6m-12.6 0l12.6-12.6M1320.0 969.1l12.6 12.6m-12.6 0l12.6-12.6M1325.9 968.9l12.6 12.6m-12.6 0l12.6-12.6M1334.4 973.1l12.6 12.6m-12.6 0l12.6-12.6M1341.7 970.6l12.6 12.6m-12.6 0l12.6-12.6M1346.6 972.5l12.6 12.6m-12.6 0l12.6-12.6M1349.2 971.7l12.6 12.6m-12.6 0l12.6-12.6M1300.7 978.5l12.6 12.6m-12.6 0l12.6-12.6M1307.7 976.5l12.6 12.6m-12.6 0l12.6-12.6M1317.1 977.0l12.6 12.6m-12.6 0l12.6-12.6M1320.7 976.8l12.6 12.6m-12.6 0l12.6-12.6M1328.0 978.4l12.6 12.6m-12.6 0l12.6-12.6M1331.3 977.1l12.6 12.6m-12.6 0l12.6-12.6M1338.2 975.4l12.6 12.6m-12.6 0l12.6-12.6M1347.3 976.7l12.6 12.6m-12.6 0l12.6-12.6M1352.1 978.3l12.6 12.6m-12.6 0l12.6-12.6M1360.2 976.4l12.6 12.6m-12.6 0l12.6-12.6M1364.4 976.7l12.6 12.6m-12.6 0l12.6-12.6M1292.4 982.8l12.6 12.6m-12.6 0l12.6-12.6M1295.1 985.6l12.6 12.6m-12.6 0l12.6-12.6M1305.4 985.5l12.6 12.6m-12.6 0l12.6-12.6M1307.3 981.3l12.6 12.6m-12.6 0l12.6-12.6M1312.9 984.4l12.6 12.6m-12.6 0l12.6-12.6M1320.3 980.5l12.6 12.6m-12.6 0l12.6-12.6M1327.2 985.2l12.6 12.6m-12.6 0l12.6-12.6M1335.6 981.3l12.6 12.6m-12.6 0l12.6-12.6M1337.6 985.2l12.6 12.6m-12.6 0l12.6-12.6M1346.1 983.9l12.6 12.6m-12.6 0l12.6-12.6M1349.2 980.0l12.6 12.6m-12.6 0l12.6-12.6M1358.8 982.3l12.6 12.6m-12.6 0l12.6-12.6M1361.1 985.3l12.6 12.6m-12.6 0l12.6-12.6M1370.5 984.5l12.6 12.6m-12.6 0l12.6-12.6M1373.2 984.8l12.6 12.6m-12.6 0l12.6-12.6M1379.1 984.9l12.6 12.6m-12.6 0l12.6-12.6M1286.9 989.5l12.6 12.6m-12.6 0l12.6-12.6M1291.1 987.8l12.6 12.6m-12.6 0l12.6-12.6M1301.1 990.1l12.6 12.6m-12.6 0l12.6-12.6M1308.2 986.7l12.6 12.6m-12.6 0l12.6-12.6M1313.2 990.7l12.6 12.6m-12.6 0l12.6-12.6M1323.9 989.7l12.6 12.6m-12.6 0l12.6-12.6M1326.4 987.2l12.6 12.6m-12.6 0l12.6-12.6M1332.5 988.5l12.6 12.6m-12.6 0l12.6-12.6M1337.6 988.4l12.6 12.6m-12.6 0l12.6-12.6M1344.3 991.5l12.6 12.6m-12.6 0l12.6-12.6M1354.5 989.0l12.6 12.6m-12.6 0l12.6-12.6M1356.2 991.5l12.6 12.6m-12.6 0l12.6-12.6M1362.6 987.8l12.6 12.6m-12.6 0l12.6-12.6M1366.7 988.0l12.6 12.6m-12.6 0l12.6-12.6M1375.5 988.7l12.6 12.6m-12.6 0l12.6-12.6M1379.9 988.7l12.6 12.6m-12.6 0l12.6-12.6M1283.5 993.9l12.6 12.6m-12.6 0l12.6-12.6M1289.3 996.7l12.6 12.6m-12.6 0l12.6-12.6M1298.1 995.5l12.6 12.6m-12.6 0l12.6-12.6M1304.5 995.8l12.6 12.6m-12.6 0l12.6-12.6M1309.6 991.7l12.6 12.6m-12.6 0l12.6-12.6M1317.5 996.2l12.6 12.6m-12.6 0l12.6-12.6M1321.7 994.9l12.6 12.6m-12.6 0l12.6-12.6M1328.7 992.1l12.6 12.6m-12.6 0l12.6-12.6M1335.1 993.2l12.6 12.6m-12.6 0l12.6-12.6M1337.1 993.3l12.6 12.6m-12.6 0l12.6-12.6M1347.1 992.9l12.6 12.6m-12.6 0l12.6-12.6M1353.1 997.6l12.6 12.6m-12.6 0l12.6-12.6M1357.7 994.0l12.6 12.6m-12.6 0l12.6-12.6M1363.6 995.8l12.6 12.6m-12.6 0l12.6-12.6M1371.3 995.4l12.6 12.6m-12.6 0l12.6-12.6M1376.6 992.2l12.6 12.6m-12.6 0l12.6-12.6M1379.6 993.2l12.6 12.6m-12.6 0l12.6-12.6M1276.0 1001.9l12.6 12.6m-12.6 0l12.6-12.6M1278.1 1003.1l12.6 12.6m-12.6 0l12.6-12.6M1285.6 997.8l12.6 12.6m-12.6 0l12.6-12.6M1288.7 1000.7l12.6 12.6m-12.6 0l12.6-12.6M1297.4 999.5l12.6 12.6m-12.6 0l12.6-12.6M1301.5 999.8l12.6 12.6m-12.6 0l12.6-12.6M1308.6 1002.7l12.6 12.6m-12.6 0l12.6-12.6M1312.7 1002.2l12.6 12.6m-12.6 0l12.6-12.6M1323.7 998.4l12.6 12.6m-12.6 0l12.6-12.6M1330.3 1002.0l12.6 12.6m-12.6 0l12.6-12.6M1336.1 999.4l12.6 12.6m-12.6 0l12.6-12.6M1338.9 1000.1l12.6 12.6m-12.6 0l12.6-12.6M1348.7 1001.2l12.6 12.6m-12.6 0l12.6-12.6M1350.9 1000.3l12.6 12.6m-12.6 0l12.6-12.6M1356.4 998.0l12.6 12.6m-12.6 0l12.6-12.6M1361.3 1002.7l12.6 12.6m-12.6 0l12.6-12.6M1368.4 1003.3l12.6 12.6m-12.6 0l12.6-12.6M1374.2 999.3l12.6 12.6m-12.6 0l12.6-12.6M1381.8 998.8l12.6 12.6m-12.6 0l12.6-12.6M1276.1 1009.7l12.6 12.6m-12.6 0l12.6-12.6M1279.4 1004.5l12.6 12.6m-12.6 0l12.6-12.6M1283.9 1004.2l12.6 12.6m-12.6 0l12.6-12.6M1290.8 1004.2l12.6 12.6m-12.6 0l12.6-12.6M1296.1 1005.3l12.6 12.6m-12.6 0l12.6-12.6M1304.1 1009.0l12.6 12.6m-12.6 0l12.6-12.6M1311.2 1006.2l12.6 12.6m-12.6 0l12.6-12.6M1315.2 1006.8l12.6 12.6m-12.6 0l12.6-12.6M1321.0 1005.7l12.6 12.6m-12.6 0l12.6-12.6M1325.1 1005.4l12.6 12.6m-12.6 0l12.6-12.6M1336.5 1004.5l12.6 12.6m-12.6 0l12.6-12.6M1339.7 1007.5l12.6 12.6m-12.6 0l12.6-12.6M1347.9 1005.0l12.6 12.6m-12.6 0l12.6-12.6M1350.3 1005.2l12.6 12.6m-12.6 0l12.6-12.6M1357.1 1006.4l12.6 12.6m-12.6 0l12.6-12.6M1366.4 1008.8l12.6 12.6m-12.6 0l12.6-12.6M1371.9 1003.8l12.6 12.6m-12.6 0l12.6-12.6M1372.9 1008.0l12.6 12.6m-12.6 0l12.6-12.6M1384.1 1006.5l12.6 12.6m-12.6 0l12.6-12.6M1274.3 1009.8l12.6 12.6m-12.6 0l12.6-12.6M1278.5 1012.5l12.6 12.6m-12.6 0l12.6-12.6M1288.5 1013.6l12.6 12.6m-12.6 0l12.6-12.6M1294.0 1012.6l12.6 12.6m-12.6 0l12.6-12.6M1296.1 1011.2l12.6 12.6m-12.6 0l12.6-12.6M1306.5 1013.9l12.6 12.6m-12.6 0l12.6-12.6M1308.5 1009.8l12.6 12.6m-12.6 0l12.6-12.6M1315.7 1013.7l12.6 12.6m-12.6 0l12.6-12.6M1321.2 1011.2l12.6 12.6m-12.6 0l12.6-12.6M1328.7 1015.3l12.6 12.6m-12.6 0l12.6-12.6M1332.1 1009.9l12.6 12.6m-12.6 0l12.6-12.6M1338.7 1012.2l12.6 12.6m-12.6 0l12.6-12.6M1346.8 1010.9l12.6 12.6m-12.6 0l12.6-12.6M1353.5 1014.1l12.6 12.6m-12.6 0l12.6-12.6M1357.7 1010.9l12.6 12.6m-12.6 0l12.6-12.6M1366.5 1011.6l12.6 12.6m-12.6 0l12.6-12.6M1371.6 1011.1l12.6 12.6m-12.6 0l12.6-12.6M1374.0 1014.3l12.6 12.6m-12.6 0l12.6-12.6M1380.5 1015.4l12.6 12.6m-12.6 0l12.6-12.6M1387.7 1010.8l12.6 12.6m-12.6 0l12.6-12.6M1270.4 1016.4l12.6 12.6m-12.6 0l12.6-12.6M1276.5 1016.9l12.6 12.6m-12.6 0l12.6-12.6M1278.8 1020.6l12.6 12.6m-12.6 0l12.6-12.6M1287.6 1018.3l12.6 12.6m-12.6 0l12.6-12.6M1296.9 1021.2l12.6 12.6m-12.6 0l12.6-12.6M1301.9 1017.9l12.6 12.6m-12.6 0l12.6-12.6M1312.1 1015.9l12.6 12.6m-12.6 0l12.6-12.6M1315.2 1020.6l12.6 12.6m-12.6 0l12.6-12.6M1323.3 1015.9l12.6 12.6m-12.6 0l12.6-12.6M1324.9 1016.1l12.6 12.6m-12.6 0l12.6-12.6M1336.2 1017.2l12.6 12.6m-12.6 0l12.6-12.6M1341.2 1021.1l12.6 12.6m-12.6 0l12.6-12.6M1344.7 1017.3l12.6 12.6m-12.6 0l12.6-12.6M1354.4 1019.4l12.6 12.6m-12.6 0l12.6-12.6M1356.3 1020.0l12.6 12.6m-12.6 0l12.6-12.6M1362.6 1017.4l12.6 12.6m-12.6 0l12.6-12.6M1366.7 1020.2l12.6 12.6m-12.6 0l12.6-12.6M1378.2 1019.5l12.6 12.6m-12.6 0l12.6-12.6M1384.4 1015.8l12.6 12.6m-12.6 0l12.6-12.6M1386.1 1018.6l12.6 12.6m-12.6 0l12.6-12.6M1265.3 1024.7l12.6 12.6m-12.6 0l12.6-12.6M1275.0 1024.4l12.6 12.6m-12.6 0l12.6-12.6M1278.1 1024.2l12.6 12.6m-12.6 0l12.6-12.6M1286.4 1025.7l12.6 12.6m-12.6 0l12.6-12.6M1293.2 1026.8l12.6 12.6m-12.6 0l12.6-12.6M1298.7 1022.4l12.6 12.6m-12.6 0l12.6-12.6M1305.7 1023.5l12.6 12.6m-12.6 0l12.6-12.6M1310.1 1023.9l12.6 12.6m-12.6 0l12.6-12.6M1317.1 1022.9l12.6 12.6m-12.6 0l12.6-12.6M1320.2 1023.2l12.6 12.6m-12.6 0l12.6-12.6M1325.6 1027.0l12.6 12.6m-12.6 0l12.6-12.6M1334.2 1023.7l12.6 12.6m-12.6 0l12.6-12.6M1339.1 1027.7l12.6 12.6m-12.6 0l12.6-12.6M1345.7 1023.1l12.6 12.6m-12.6 0l12.6-12.6M1353.6 1025.6l12.6 12.6m-12.6 0l12.6-12.6M1360.6 1022.3l12.6 12.6m-12.6 0l12.6-12.6M1363.5 1026.6l12.6 12.6m-12.6 0l12.6-12.6M1371.7 1027.2l12.6 12.6m-12.6 0l12.6-12.6M1372.9 1023.5l12.6 12.6m-12.6 0l12.6-12.6M1379.4 1022.8l12.6 12.6m-12.6 0l12.6-12.6M1390.5 1025.2l12.6 12.6m-12.6 0l12.6-12.6M1261.1 1031.0l12.6 12.6m-12.6 0l12.6-12.6M1268.5 1028.2l12.6 12.6m-12.6 0l12.6-12.6M1271.7 1031.9l12.6 12.6m-12.6 0l12.6-12.6M1279.2 1029.4l12.6 12.6m-12.6 0l12.6-12.6M1284.5 1033.4l12.6 12.6m-12.6 0l12.6-12.6M1290.6 1031.1l12.6 12.6m-12.6 0l12.6-12.6M1296.8 1030.2l12.6 12.6m-12.6 0l12.6-12.6M1305.9 1033.7l12.6 12.6m-12.6 0l12.6-12.6M1308.9 1028.9l12.6 12.6m-12.6 0l12.6-12.6M1317.1 1028.9l12.6 12.6m-12.6 0l12.6-12.6M1318.7 1033.1l12.6 12.6m-12.6 0l12.6-12.6M1327.2 1032.6l12.6 12.6m-12.6 0l12.6-12.6M1333.1 1033.0l12.6 12.6m-12.6 0l12.6-12.6M1342.8 1031.0l12.6 12.6m-12.6 0l12.6-12.6M1352.5 1033.2l12.6 12.6m-12.6 0l12.6-12.6M1355.2 1031.4l12.6 12.6m-12.6 0l12.6-12.6M1362.9 1030.7l12.6 12.6m-12.6 0l12.6-12.6M1367.6 1029.4l12.6 12.6m-12.6 0l12.6-12.6M1375.8 1033.3l12.6 12.6m-12.6 0l12.6-12.6M1379.4 1030.6l12.6 12.6m-12.6 0l12.6-12.6M1389.5 1033.5l12.6 12.6m-12.6 0l12.6-12.6M1391.9 1028.5l12.6 12.6m-12.6 0l12.6-12.6M1263.2 1033.9l12.6 12.6m-12.6 0l12.6-12.6M1269.7 1034.4l12.6 12.6m-12.6 0l12.6-12.6M1274.3 1037.0l12.6 12.6m-12.6 0l12.6-12.6M1280.5 1035.5l12.6 12.6m-12.6 0l12.6-12.6M1285.2 1037.2l12.6 12.6m-12.6 0l12.6-12.6M1291.3 1037.7l12.6 12.6m-12.6 0l12.6-12.6M1297.4 1036.3l12.6 12.6m-12.6 0l12.6-12.6M1300.8 1037.4l12.6 12.6m-12.6 0l12.6-12.6M1309.6 1035.1l12.6 12.6m-12.6 0l12.6-12.6M1317.3 1038.4l12.6 12.6m-12.6 0l12.6-12.6M1321.4 1034.8l12.6 12.6m-12.6 0l12.6-12.6M1327.5 1034.3l12.6 12.6m-12.6 0l12.6-12.6M1331.5 1036.3l12.6 12.6m-12.6 0l12.6-12.6M1337.3 1036.4l12.6 12.6m-12.6 0l12.6-12.6M1345.8 1033.9l12.6 12.6m-12.6 0l12.6-12.6M1359.1 1038.4l12.6 12.6m-12.6 0l12.6-12.6M1363.8 1034.0l12.6 12.6m-12.6 0l12.6-12.6M1369.7 1036.0l12.6 12.6m-12.6 0l12.6-12.6M1378.4 1034.5l12.6 12.6m-12.6 0l12.6-12.6M1383.8 1039.7l12.6 12.6m-12.6 0l12.6-12.6M1389.1 1038.6l12.6 12.6m-12.6 0l12.6-12.6M1256.8 1045.1l12.6 12.6m-12.6 0l12.6-12.6M1259.7 1044.4l12.6 12.6m-12.6 0l12.6-12.6M1265.4 1042.9l12.6 12.6m-12.6 0l12.6-12.6M1274.5 1041.9l12.6 12.6m-12.6 0l12.6-12.6M1281.9 1043.0l12.6 12.6m-12.6 0l12.6-12.6M1286.2 1045.0l12.6 12.6m-12.6 0l12.6-12.6M1289.3 1045.7l12.6 12.6m-12.6 0l12.6-12.6M1298.5 1042.1l12.6 12.6m-12.6 0l12.6-12.6M1305.5 1041.3l12.6 12.6m-12.6 0l12.6-12.6M1312.6 1043.2l12.6 12.6m-12.6 0l12.6-12.6M1314.9 1044.3l12.6 12.6m-12.6 0l12.6-12.6M1321.4 1040.8l12.6 12.6m-12.6 0l12.6-12.6M1329.2 1040.0l12.6 12.6m-12.6 0l12.6-12.6M1335.6 1041.2l12.6 12.6m-12.6 0l12.6-12.6M1340.5 1045.6l12.6 12.6m-12.6 0l12.6-12.6M1346.2 1043.7l12.6 12.6m-12.6 0l12.6-12.6M1350.6 1039.7l12.6 12.6m-12.6 0l12.6-12.6M1354.9 1040.6l12.6 12.6m-12.6 0l12.6-12.6M1364.4 1042.3l12.6 12.6m-12.6 0l12.6-12.6M1369.8 1045.1l12.6 12.6m-12.6 0l12.6-12.6M1373.5 1041.1l12.6 12.6m-12.6 0l12.6-12.6M1384.7 1041.8l12.6 12.6m-12.6 0l12.6-12.6M1252.3 1050.1l12.6 12.6m-12.6 0l12.6-12.6M1254.2 1051.1l12.6 12.6m-12.6 0l12.6-12.6M1259.0 1048.9l12.6 12.6m-12.6 0l12.6-12.6M1267.1 1047.1l12.6 12.6m-12.6 0l12.6-12.6M1271.1 1050.4l12.6 12.6m-12.6 0l12.6-12.6M1276.8 1049.0l12.6 12.6m-12.6 0l12.6-12.6M1289.9 1049.3l12.6 12.6m-12.6 0l12.6-12.6M1297.7 1049.5l12.6 12.6m-12.6 0l12.6-12.6M1305.6 1046.7l12.6 12.6m-12.6 0l12.6-12.6M1308.6 1047.5l12.6 12.6m-12.6 0l12.6-12.6M1313.0 1051.0l12.6 12.6m-12.6 0l12.6-12.6M1323.4 1050.0l12.6 12.6m-12.6 0l12.6-12.6M1324.7 1050.8l12.6 12.6m-12.6 0l12.6-12.6M1335.2 1048.5l12.6 12.6m-12.6 0l12.6-12.6M1341.2 1048.4l12.6 12.6m-12.6 0l12.6-12.6M1344.1 1046.3l12.6 12.6m-12.6 0l12.6-12.6M1350.1 1045.9l12.6 12.6m-12.6 0l12.6-12.6M1356.7 1050.2l12.6 12.6m-12.6 0l12.6-12.6M1364.9 1050.8l12.6 12.6m-12.6 0l12.6-12.6M1371.0 1047.3l12.6 12.6m-12.6 0l12.6-12.6M1376.0 1048.3l12.6 12.6m-12.6 0l12.6-12.6M1383.4 1048.8l12.6 12.6m-12.6 0l12.6-12.6M1386.3 1049.6l12.6 12.6m-12.6 0l12.6-12.6M1250.1 1053.5l12.6 12.6m-12.6 0l12.6-12.6M1254.0 1055.4l12.6 12.6m-12.6 0l12.6-12.6M1259.2 1057.2l12.6 12.6m-12.6 0l12.6-12.6M1265.6 1051.9l12.6 12.6m-12.6 0l12.6-12.6M1271.3 1057.3l12.6 12.6m-12.6 0l12.6-12.6M1278.8 1052.6l12.6 12.6m-12.6 0l12.6-12.6M1282.9 1051.9l12.6 12.6m-12.6 0l12.6-12.6M1292.9 1055.5l12.6 12.6m-12.6 0l12.6-12.6M1298.9 1056.1l12.6 12.6m-12.6 0l12.6-12.6M1301.1 1055.2l12.6 12.6m-12.6 0l12.6-12.6M1308.9 1056.6l12.6 12.6m-12.6 0l12.6-12.6M1317.6 1057.0l12.6 12.6m-12.6 0l12.6-12.6M1319.1 1056.9l12.6 12.6m-12.6 0l12.6-12.6M1330.2 1057.4l12.6 12.6m-12.6 0l12.6-12.6M1331.3 1052.9l12.6 12.6m-12.6 0l12.6-12.6M1337.4 1051.9l12.6 12.6m-12.6 0l12.6-12.6M1347.8 1056.6l12.6 12.6m-12.6 0l12.6-12.6M1352.5 1056.7l12.6 12.6m-12.6 0l12.6-12.6M1358.5 1053.4l12.6 12.6m-12.6 0l12.6-12.6M1361.3 1052.3l12.6 12.6m-12.6 0l12.6-12.6M1371.2 1052.9l12.6 12.6m-12.6 0l12.6-12.6M1374.6 1054.2l12.6 12.6m-12.6 0l12.6-12.6M1378.8 1053.2l12.6 12.6m-12.6 0l12.6-12.6M1386.4 1056.0l12.6 12.6m-12.6 0l12.6-12.6M1249.6 1062.5l12.6 12.6m-12.6 0l12.6-12.6M1253.8 1060.7l12.6 12.6m-12.6 0l12.6-12.6M1260.8 1062.7l12.6 12.6m-12.6 0l12.6-12.6M1266.3 1063.4l12.6 12.6m-12.6 0l12.6-12.6M1272.4 1059.0l12.6 12.6m-12.6 0l12.6-12.6M1280.9 1060.7l12.6 12.6m-12.6 0l12.6-12.6M1283.4 1061.5l12.6 12.6m-12.6 0l12.6-12.6M1289.2 1062.4l12.6 12.6m-12.6 0l12.6-12.6M1298.9 1062.4l12.6 12.6m-12.6 0l12.6-12.6M1304.5 1059.8l12.6 12.6m-12.6 0l12.6-12.6M1309.1 1060.1l12.6 12.6m-12.6 0l12.6-12.6M1324.0 1057.9l12.6 12.6m-12.6 0l12.6-12.6M1325.9 1059.3l12.6 12.6m-12.6 0l12.6-12.6M1336.1 1060.7l12.6 12.6m-12.6 0l12.6-12.6M1339.0 1063.0l12.6 12.6m-12.6 0l12.6-12.6M1344.1 1060.5l12.6 12.6m-12.6 0l12.6-12.6M1351.9 1062.2l12.6 12.6m-12.6 0l12.6-12.6M1359.2 1061.6l12.6 12.6m-12.6 0l12.6-12.6M1362.8 1059.7l12.6 12.6m-12.6 0l12.6-12.6M1367.6 1062.8l12.6 12.6m-12.6 0l12.6-12.6M1376.7 1062.2l12.6 12.6m-12.6 0l12.6-12.6M1379.7 1060.3l12.6 12.6m-12.6 0l12.6-12.6M1246.6 1068.5l12.6 12.6m-12.6 0l12.6-12.6M1251.1 1066.3l12.6 12.6m-12.6 0l12.6-12.6M1253.9 1067.5l12.6 12.6m-12.6 0l12.6-12.6M1259.3 1064.9l12.6 12.6m-12.6 0l12.6-12.6M1273.1 1068.4l12.6 12.6m-12.6 0l12.6-12.6M1280.9 1066.7l12.6 12.6m-12.6 0l12.6-12.6M1286.5 1066.5l12.6 12.6m-12.6 0l12.6-12.6M1289.6 1067.3l12.6 12.6m-12.6 0l12.6-12.6M1297.1 1068.1l12.6 12.6m-12.6 0l12.6-12.6M1306.1 1066.3l12.6 12.6m-12.6 0l12.6-12.6M1310.1 1068.2l12.6 12.6m-12.6 0l12.6-12.6M1315.2 1065.1l12.6 12.6m-12.6 0l12.6-12.6M1323.0 1069.0l12.6 12.6m-12.6 0l12.6-12.6M1329.3 1067.9l12.6 12.6m-12.6 0l12.6-12.6M1335.8 1067.8l12.6 12.6m-12.6 0l12.6-12.6M1340.5 1066.4l12.6 12.6m-12.6 0l12.6-12.6M1344.6 1067.5l12.6 12.6m-12.6 0l12.6-12.6M1349.3 1066.2l12.6 12.6m-12.6 0l12.6-12.6M1359.4 1068.0l12.6 12.6m-12.6 0l12.6-12.6M1364.5 1065.2l12.6 12.6m-12.6 0l12.6-12.6M1369.2 1066.4l12.6 12.6m-12.6 0l12.6-12.6M1376.4 1066.2l12.6 12.6m-12.6 0l12.6-12.6M1382.8 1069.3l12.6 12.6m-12.6 0l12.6-12.6M1385.8 1067.6l12.6 12.6m-12.6 0l12.6-12.6M1236.0 1073.8l12.6 12.6m-12.6 0l12.6-12.6M1243.1 1074.3l12.6 12.6m-12.6 0l12.6-12.6M1247.4 1075.6l12.6 12.6m-12.6 0l12.6-12.6M1254.8 1070.0l12.6 12.6m-12.6 0l12.6-12.6M1260.3 1072.1l12.6 12.6m-12.6 0l12.6-12.6M1264.8 1072.2l12.6 12.6m-12.6 0l12.6-12.6M1273.2 1073.9l12.6 12.6m-12.6 0l12.6-12.6M1278.8 1071.3l12.6 12.6m-12.6 0l12.6-12.6M1284.0 1074.1l12.6 12.6m-12.6 0l12.6-12.6M1294.3 1072.9l12.6 12.6m-12.6 0l12.6-12.6M1296.0 1074.5l12.6 12.6m-12.6 0l12.6-12.6M1303.1 1071.0l12.6 12.6m-12.6 0l12.6-12.6M1307.5 1074.4l12.6 12.6m-12.6 0l12.6-12.6M1317.6 1073.5l12.6 12.6m-12.6 0l12.6-12.6M1321.5 1073.1l12.6 12.6m-12.6 0l12.6-12.6M1326.1 1075.5l12.6 12.6m-12.6 0l12.6-12.6M1332.8 1073.5l12.6 12.6m-12.6 0l12.6-12.6M1341.6 1074.6l12.6 12.6m-12.6 0l12.6-12.6M1345.5 1071.5l12.6 12.6m-12.6 0l12.6-12.6M1352.0 1070.5l12.6 12.6m-12.6 0l12.6-12.6M1359.7 1071.8l12.6 12.6m-12.6 0l12.6-12.6M1365.8 1071.3l12.6 12.6m-12.6 0l12.6-12.6M1369.0 1071.2l12.6 12.6m-12.6 0l12.6-12.6M1375.3 1070.8l12.6 12.6m-12.6 0l12.6-12.6M1378.7 1074.0l12.6 12.6m-12.6 0l12.6-12.6M1232.6 1077.2l12.6 12.6m-12.6 0l12.6-12.6M1235.3 1076.6l12.6 12.6m-12.6 0l12.6-12.6M1242.1 1080.4l12.6 12.6m-12.6 0l12.6-12.6M1248.8 1076.6l12.6 12.6m-12.6 0l12.6-12.6M1258.1 1080.5l12.6 12.6m-12.6 0l12.6-12.6M1259.7 1081.0l12.6 12.6m-12.6 0l12.6-12.6M1268.4 1080.4l12.6 12.6m-12.6 0l12.6-12.6M1274.7 1081.1l12.6 12.6m-12.6 0l12.6-12.6M1281.4 1080.7l12.6 12.6m-12.6 0l12.6-12.6M1283.9 1079.9l12.6 12.6m-12.6 0l12.6-12.6M1291.9 1080.2l12.6 12.6m-12.6 0l12.6-12.6M1297.3 1081.0l12.6 12.6m-12.6 0l12.6-12.6M1304.0 1077.3l12.6 12.6m-12.6 0l12.6-12.6M1308.1 1076.5l12.6 12.6m-12.6 0l12.6-12.6M1315.7 1076.1l12.6 12.6m-12.6 0l12.6-12.6M1321.5 1076.6l12.6 12.6m-12.6 0l12.6-12.6M1327.6 1078.7l12.6 12.6m-12.6 0l12.6-12.6M1333.9 1080.9l12.6 12.6m-12.6 0l12.6-12.6M1336.7 1080.7l12.6 12.6m-12.6 0l12.6-12.6M1345.5 1079.1l12.6 12.6m-12.6 0l12.6-12.6M1352.7 1080.7l12.6 12.6m-12.6 0l12.6-12.6M1356.9 1078.2l12.6 12.6m-12.6 0l12.6-12.6M1366.5 1076.2l12.6 12.6m-12.6 0l12.6-12.6M1370.5 1079.5l12.6 12.6m-12.6 0l12.6-12.6M1372.9 1079.4l12.6 12.6m-12.6 0l12.6-12.6M1227.7 1083.5l12.6 12.6m-12.6 0l12.6-12.6M1233.7 1084.1l12.6 12.6m-12.6 0l12.6-12.6M1237.7 1083.3l12.6 12.6m-12.6 0l12.6-12.6M1243.7 1087.5l12.6 12.6m-12.6 0l12.6-12.6M1250.6 1086.5l12.6 12.6m-12.6 0l12.6-12.6M1254.7 1083.6l12.6 12.6m-12.6 0l12.6-12.6M1260.5 1085.2l12.6 12.6m-12.6 0l12.6-12.6M1268.5 1086.4l12.6 12.6m-12.6 0l12.6-12.6M1270.9 1086.0l12.6 12.6m-12.6 0l12.6-12.6M1282.0 1085.0l12.6 12.6m-12.6 0l12.6-12.6M1283.0 1083.5l12.6 12.6m-12.6 0l12.6-12.6M1288.7 1082.8l12.6 12.6m-12.6 0l12.6-12.6M1300.2 1085.4l12.6 12.6m-12.6 0l12.6-12.6M1304.6 1086.4l12.6 12.6m-12.6 0l12.6-12.6M1312.2 1085.4l12.6 12.6m-12.6 0l12.6-12.6M1316.4 1085.5l12.6 12.6m-12.6 0l12.6-12.6M1322.9 1085.3l12.6 12.6m-12.6 0l12.6-12.6M1328.8 1083.0l12.6 12.6m-12.6 0l12.6-12.6M1334.7 1084.4l12.6 12.6m-12.6 0l12.6-12.6M1341.3 1082.3l12.6 12.6m-12.6 0l12.6-12.6M1343.8 1081.9l12.6 12.6m-12.6 0l12.6-12.6M1353.3 1087.2l12.6 12.6m-12.6 0l12.6-12.6M1358.6 1083.9l12.6 12.6m-12.6 0l12.6-12.6M1365.6 1086.4l12.6 12.6m-12.6 0l12.6-12.6M1370.1 1083.2l12.6 12.6m-12.6 0l12.6-12.6M1374.5 1084.2l12.6 12.6m-12.6 0l12.6-12.6M1226.6 1089.0l12.6 12.6m-12.6 0l12.6-12.6M1229.6 1087.8l12.6 12.6m-12.6 0l12.6-12.6M1234.7 1091.8l12.6 12.6m-12.6 0l12.6-12.6M1241.4 1093.5l12.6 12.6m-12.6 0l12.6-12.6M1247.2 1092.9l12.6 12.6m-12.6 0l12.6-12.6M1253.5 1087.8l12.6 12.6m-12.6 0l12.6-12.6M1263.0 1089.2l12.6 12.6m-12.6 0l12.6-12.6M1269.1 1088.8l12.6 12.6m-12.6 0l12.6-12.6M1271.0 1092.3l12.6 12.6m-12.6 0l12.6-12.6M1281.0 1092.8l12.6 12.6m-12.6 0l12.6-12.6M1287.1 1088.2l12.6 12.6m-12.6 0l12.6-12.6M1292.5 1092.0l12.6 12.6m-12.6 0l12.6-12.6M1297.5 1093.3l12.6 12.6m-12.6 0l12.6-12.6M1302.2 1093.5l12.6 12.6m-12.6 0l12.6-12.6M1311.0 1087.8l12.6 12.6m-12.6 0l12.6-12.6M1312.8 1091.6l12.6 12.6m-12.6 0l12.6-12.6M1323.6 1088.2l12.6 12.6m-12.6 0l12.6-12.6M1326.6 1092.1l12.6 12.6m-12.6 0l12.6-12.6M1331.7 1092.9l12.6 12.6m-12.6 0l12.6-12.6M1339.6 1088.1l12.6 12.6m-12.6 0l12.6-12.6M1344.9 1091.1l12.6 12.6m-12.6 0l12.6-12.6M1351.3 1091.8l12.6 12.6m-12.6 0l12.6-12.6M1355.6 1092.5l12.6 12.6m-12.6 0l12.6-12.6M1362.9 1091.6l12.6 12.6m-12.6 0l12.6-12.6M1370.5 1090.2l12.6 12.6m-12.6 0l12.6-12.6M1220.3 1099.1l12.6 12.6m-12.6 0l12.6-12.6M1227.5 1095.4l12.6 12.6m-12.6 0l12.6-12.6M1237.2 1097.2l12.6 12.6m-12.6 0l12.6-12.6M1245.6 1099.0l12.6 12.6m-12.6 0l12.6-12.6M1257.6 1098.9l12.6 12.6m-12.6 0l12.6-12.6M1262.1 1095.3l12.6 12.6m-12.6 0l12.6-12.6M1269.8 1098.5l12.6 12.6m-12.6 0l12.6-12.6M1274.8 1099.2l12.6 12.6m-12.6 0l12.6-12.6M1278.8 1094.2l12.6 12.6m-12.6 0l12.6-12.6M1286.0 1098.5l12.6 12.6m-12.6 0l12.6-12.6M1289.9 1098.2l12.6 12.6m-12.6 0l12.6-12.6M1300.3 1095.1l12.6 12.6m-12.6 0l12.6-12.6M1304.3 1097.8l12.6 12.6m-12.6 0l12.6-12.6M1309.5 1094.9l12.6 12.6m-12.6 0l12.6-12.6M1314.2 1098.2l12.6 12.6m-12.6 0l12.6-12.6M1323.4 1096.5l12.6 12.6m-12.6 0l12.6-12.6M1325.2 1098.5l12.6 12.6m-12.6 0l12.6-12.6M1335.3 1095.1l12.6 12.6m-12.6 0l12.6-12.6M1340.2 1099.1l12.6 12.6m-12.6 0l12.6-12.6M1348.0 1096.8l12.6 12.6m-12.6 0l12.6-12.6M1351.6 1097.2l12.6 12.6m-12.6 0l12.6-12.6M1355.8 1094.9l12.6 12.6m-12.6 0l12.6-12.6M1361.8 1097.9l12.6 12.6m-12.6 0l12.6-12.6M1368.9 1097.1l12.6 12.6m-12.6 0l12.6-12.6M1214.1 1101.3l12.6 12.6m-12.6 0l12.6-12.6M1221.4 1102.3l12.6 12.6m-12.6 0l12.6-12.6M1228.4 1104.3l12.6 12.6m-12.6 0l12.6-12.6M1233.6 1105.5l12.6 12.6m-12.6 0l12.6-12.6M1236.2 1099.9l12.6 12.6m-12.6 0l12.6-12.6M1241.9 1100.8l12.6 12.6m-12.6 0l12.6-12.6M1247.2 1100.0l12.6 12.6m-12.6 0l12.6-12.6M1256.0 1104.9l12.6 12.6m-12.6 0l12.6-12.6M1261.4 1105.4l12.6 12.6m-12.6 0l12.6-12.6M1270.2 1100.1l12.6 12.6m-12.6 0l12.6-12.6M1274.3 1102.1l12.6 12.6m-12.6 0l12.6-12.6M1277.4 1105.5l12.6 12.6m-12.6 0l12.6-12.6M1284.2 1103.1l12.6 12.6m-12.6 0l12.6-12.6M1292.5 1105.4l12.6 12.6m-12.6 0l12.6-12.6M1298.7 1102.1l12.6 12.6m-12.6 0l12.6-12.6M1303.4 1100.7l12.6 12.6m-12.6 0l12.6-12.6M1312.5 1105.7l12.6 12.6m-12.6 0l12.6-12.6M1314.0 1099.9l12.6 12.6m-12.6 0l12.6-12.6M1320.2 1101.8l12.6 12.6m-12.6 0l12.6-12.6M1330.1 1105.1l12.6 12.6m-12.6 0l12.6-12.6M1335.7 1100.0l12.6 12.6m-12.6 0l12.6-12.6M1341.4 1104.0l12.6 12.6m-12.6 0l12.6-12.6M1346.6 1105.6l12.6 12.6m-12.6 0l12.6-12.6M1349.0 1100.6l12.6 12.6m-12.6 0l12.6-12.6M1359.2 1105.3l12.6 12.6m-12.6 0l12.6-12.6M1364.8 1101.5l12.6 12.6m-12.6 0l12.6-12.6M1209.9 1111.0l12.6 12.6m-12.6 0l12.6-12.6M1211.5 1108.4l12.6 12.6m-12.6 0l12.6-12.6M1217.3 1111.3l12.6 12.6m-12.6 0l12.6-12.6M1227.8 1109.5l12.6 12.6m-12.6 0l12.6-12.6M1231.4 1107.7l12.6 12.6m-12.6 0l12.6-12.6M1239.6 1108.6l12.6 12.6m-12.6 0l12.6-12.6M1244.5 1106.6l12.6 12.6m-12.6 0l12.6-12.6M1248.0 1106.0l12.6 12.6m-12.6 0l12.6-12.6M1257.0 1109.0l12.6 12.6m-12.6 0l12.6-12.6M1259.6 1110.9l12.6 12.6m-12.6 0l12.6-12.6M1266.3 1108.2l12.6 12.6m-12.6 0l12.6-12.6M1271.6 1107.3l12.6 12.6m-12.6 0l12.6-12.6M1281.7 1107.7l12.6 12.6m-12.6 0l12.6-12.6M1283.7 1108.6l12.6 12.6m-12.6 0l12.6-12.6M1290.6 1111.1l12.6 12.6m-12.6 0l12.6-12.6M1295.4 1111.6l12.6 12.6m-12.6 0l12.6-12.6M1301.0 1111.1l12.6 12.6m-12.6 0l12.6-12.6M1310.7 1107.0l12.6 12.6m-12.6 0l12.6-12.6M1315.6 1107.4l12.6 12.6m-12.6 0l12.6-12.6M1320.2 1106.9l12.6 12.6m-12.6 0l12.6-12.6M1326.9 1111.6l12.6 12.6m-12.6 0l12.6-12.6M1336.7 1111.3l12.6 12.6m-12.6 0l12.6-12.6M1337.3 1107.4l12.6 12.6m-12.6 0l12.6-12.6M1348.1 1106.0l12.6 12.6m-12.6 0l12.6-12.6M1353.1 1107.5l12.6 12.6m-12.6 0l12.6-12.6M1360.6 1105.8l12.6 12.6m-12.6 0l12.6-12.6M1202.4 1114.7l12.6 12.6m-12.6 0l12.6-12.6M1206.3 1112.9l12.6 12.6m-12.6 0l12.6-12.6M1214.4 1115.9l12.6 12.6m-12.6 0l12.6-12.6M1221.6 1115.2l12.6 12.6m-12.6 0l12.6-12.6M1223.9 1112.1l12.6 12.6m-12.6 0l12.6-12.6M1233.1 1114.1l12.6 12.6m-12.6 0l12.6-12.6M1239.0 1112.0l12.6 12.6m-12.6 0l12.6-12.6M1245.6 1113.7l12.6 12.6m-12.6 0l12.6-12.6M1251.8 1116.9l12.6 12.6m-12.6 0l12.6-12.6M1255.7 1111.8l12.6 12.6m-12.6 0l12.6-12.6M1264.2 1114.6l12.6 12.6m-12.6 0l12.6-12.6M1269.9 1113.3l12.6 12.6m-12.6 0l12.6-12.6M1271.8 1116.7l12.6 12.6m-12.6 0l12.6-12.6M1278.9 1112.7l12.6 12.6m-12.6 0l12.6-12.6M1284.9 1115.3l12.6 12.6m-12.6 0l12.6-12.6M1288.7 1114.8l12.6 12.6m-12.6 0l12.6-12.6M1297.4 1114.8l12.6 12.6m-12.6 0l12.6-12.6M1301.4 1116.0l12.6 12.6m-12.6 0l12.6-12.6M1311.6 1116.9l12.6 12.6m-12.6 0l12.6-12.6M1314.6 1116.0l12.6 12.6m-12.6 0l12.6-12.6M1321.0 1116.2l12.6 12.6m-12.6 0l12.6-12.6M1325.1 1116.9l12.6 12.6m-12.6 0l12.6-12.6M1336.4 1114.7l12.6 12.6m-12.6 0l12.6-12.6M1339.8 1114.9l12.6 12.6m-12.6 0l12.6-12.6M1345.9 1111.8l12.6 12.6m-12.6 0l12.6-12.6M1354.5 1113.0l12.6 12.6m-12.6 0l12.6-12.6M1355.8 1112.3l12.6 12.6m-12.6 0l12.6-12.6M1200.4 1118.4l12.6 12.6m-12.6 0l12.6-12.6M1207.1 1118.5l12.6 12.6m-12.6 0l12.6-12.6M1214.3 1122.9l12.6 12.6m-12.6 0l12.6-12.6M1217.6 1121.1l12.6 12.6m-12.6 0l12.6-12.6M1227.2 1118.7l12.6 12.6m-12.6 0l12.6-12.6M1233.7 1123.3l12.6 12.6m-12.6 0l12.6-12.6M1237.0 1120.2l12.6 12.6m-12.6 0l12.6-12.6M1245.7 1120.9l12.6 12.6m-12.6 0l12.6-12.6M1249.1 1123.3l12.6 12.6m-12.6 0l12.6-12.6M1257.4 1119.7l12.6 12.6m-12.6 0l12.6-12.6M1260.1 1119.7l12.6 12.6m-12.6 0l12.6-12.6M1267.3 1123.6l12.6 12.6m-12.6 0l12.6-12.6M1275.5 1123.2l12.6 12.6m-12.6 0l12.6-12.6M1281.6 1122.8l12.6 12.6m-12.6 0l12.6-12.6M1283.0 1120.8l12.6 12.6m-12.6 0l12.6-12.6M1294.4 1123.3l12.6 12.6m-12.6 0l12.6-12.6M1296.2 1120.2l12.6 12.6m-12.6 0l12.6-12.6M1304.5 1119.9l12.6 12.6m-12.6 0l12.6-12.6M1309.9 1118.1l12.6 12.6m-12.6 0l12.6-12.6M1315.3 1120.7l12.6 12.6m-12.6 0l12.6-12.6M1318.8 1118.5l12.6 12.6m-12.6 0l12.6-12.6M1330.5 1122.4l12.6 12.6m-12.6 0l12.6-12.6M1336.3 1121.5l12.6 12.6m-12.6 0l12.6-12.6M1341.6 1123.0l12.6 12.6m-12.6 0l12.6-12.6M1348.0 1117.9l12.6 12.6m-12.6 0l12.6-12.6M1352.5 1119.3l12.6 12.6m-12.6 0l12.6-12.6M1195.9 1124.6l12.6 12.6m-12.6 0l12.6-12.6M1199.4 1124.5l12.6 12.6m-12.6 0l12.6-12.6M1206.5 1126.1l12.6 12.6m-12.6 0l12.6-12.6M1212.4 1125.2l12.6 12.6m-12.6 0l12.6-12.6M1217.2 1127.0l12.6 12.6m-12.6 0l12.6-12.6M1227.7 1127.4l12.6 12.6m-12.6 0l12.6-12.6M1232.1 1127.6l12.6 12.6m-12.6 0l12.6-12.6M1235.9 1128.0l12.6 12.6m-12.6 0l12.6-12.6M1243.5 1127.0l12.6 12.6m-12.6 0l12.6-12.6M1250.4 1126.5l12.6 12.6m-12.6 0l12.6-12.6M1254.6 1125.2l12.6 12.6m-12.6 0l12.6-12.6M1260.0 1126.8l12.6 12.6m-12.6 0l12.6-12.6M1267.0 1127.2l12.6 12.6m-12.6 0l12.6-12.6M1270.8 1125.8l12.6 12.6m-12.6 0l12.6-12.6M1281.9 1125.1l12.6 12.6m-12.6 0l12.6-12.6M1286.0 1126.6l12.6 12.6m-12.6 0l12.6-12.6M1290.4 1129.6l12.6 12.6m-12.6 0l12.6-12.6M1296.5 1128.3l12.6 12.6m-12.6 0l12.6-12.6M1301.7 1124.1l12.6 12.6m-12.6 0l12.6-12.6M1311.9 1126.3l12.6 12.6m-12.6 0l12.6-12.6M1321.3 1128.1l12.6 12.6m-12.6 0l12.6-12.6M1325.4 1125.1l12.6 12.6m-12.6 0l12.6-12.6M1336.5 1128.1l12.6 12.6m-12.6 0l12.6-12.6M1337.6 1125.7l12.6 12.6m-12.6 0l12.6-12.6M1344.8 1127.8l12.6 12.6m-12.6 0l12.6-12.6M1197.4 1134.9l12.6 12.6m-12.6 0l12.6-12.6M1202.3 1132.0l12.6 12.6m-12.6 0l12.6-12.6M1207.4 1132.4l12.6 12.6m-12.6 0l12.6-12.6M1215.0 1131.5l12.6 12.6m-12.6 0l12.6-12.6M1219.0 1133.0l12.6 12.6m-12.6 0l12.6-12.6M1225.0 1131.6l12.6 12.6m-12.6 0l12.6-12.6M1233.4 1134.8l12.6 12.6m-12.6 0l12.6-12.6M1237.7 1132.4l12.6 12.6m-12.6 0l12.6-12.6M1241.8 1131.5l12.6 12.6m-12.6 0l12.6-12.6M1247.6 1133.2l12.6 12.6m-12.6 0l12.6-12.6M1256.2 1130.2l12.6 12.6m-12.6 0l12.6-12.6M1264.2 1131.6l12.6 12.6m-12.6 0l12.6-12.6M1269.8 1134.7l12.6 12.6m-12.6 0l12.6-12.6M1276.5 1130.9l12.6 12.6m-12.6 0l12.6-12.6M1279.3 1135.2l12.6 12.6m-12.6 0l12.6-12.6M1282.8 1130.0l12.6 12.6m-12.6 0l12.6-12.6M1292.1 1132.7l12.6 12.6m-12.6 0l12.6-12.6M1300.2 1134.3l12.6 12.6m-12.6 0l12.6-12.6M1303.9 1135.7l12.6 12.6m-12.6 0l12.6-12.6M1309.8 1132.8l12.6 12.6m-12.6 0l12.6-12.6M1316.8 1132.0l12.6 12.6m-12.6 0l12.6-12.6M1320.8 1133.3l12.6 12.6m-12.6 0l12.6-12.6M1326.8 1135.4l12.6 12.6m-12.6 0l12.6-12.6M1334.8 1132.9l12.6 12.6m-12.6 0l12.6-12.6M1337.3 1131.9l12.6 12.6m-12.6 0l12.6-12.6M1191.6 1141.6l12.6 12.6m-12.6 0l12.6-12.6M1198.0 1138.2l12.6 12.6m-12.6 0l12.6-12.6M1199.6 1137.4l12.6 12.6m-12.6 0l12.6-12.6M1207.8 1138.7l12.6 12.6m-12.6 0l12.6-12.6M1211.8 1136.8l12.6 12.6m-12.6 0l12.6-12.6M1220.5 1139.3l12.6 12.6m-12.6 0l12.6-12.6M1224.8 1141.7l12.6 12.6m-12.6 0l12.6-12.6M1232.5 1136.0l12.6 12.6m-12.6 0l12.6-12.6M1237.2 1140.4l12.6 12.6m-12.6 0l12.6-12.6M1242.5 1139.8l12.6 12.6m-12.6 0l12.6-12.6M1246.7 1137.5l12.6 12.6m-12.6 0l12.6-12.6M1257.8 1139.2l12.6 12.6m-12.6 0l12.6-12.6M1262.7 1136.9l12.6 12.6m-12.6 0l12.6-12.6M1267.7 1139.0l12.6 12.6m-12.6 0l12.6-12.6M1272.3 1139.6l12.6 12.6m-12.6 0l12.6-12.6M1279.9 1141.7l12.6 12.6m-12.6 0l12.6-12.6M1286.1 1138.2l12.6 12.6m-12.6 0l12.6-12.6M1289.4 1136.6l12.6 12.6m-12.6 0l12.6-12.6M1299.3 1136.3l12.6 12.6m-12.6 0l12.6-12.6M1301.3 1136.7l12.6 12.6m-12.6 0l12.6-12.6M1309.8 1140.6l12.6 12.6m-12.6 0l12.6-12.6M1316.4 1140.5l12.6 12.6m-12.6 0l12.6-12.6M1319.1 1135.8l12.6 12.6m-12.6 0l12.6-12.6M1329.3 1137.6l12.6 12.6m-12.6 0l12.6-12.6M1335.0 1137.8l12.6 12.6m-12.6 0l12.6-12.6M1337.7 1137.3l12.6 12.6m-12.6 0l12.6-12.6M1190.3 1147.5l12.6 12.6m-12.6 0l12.6-12.6M1195.7 1147.4l12.6 12.6m-12.6 0l12.6-12.6M1200.2 1144.0l12.6 12.6m-12.6 0l12.6-12.6M1209.0 1143.0l12.6 12.6m-12.6 0l12.6-12.6M1212.6 1147.0l12.6 12.6m-12.6 0l12.6-12.6M1219.6 1146.5l12.6 12.6m-12.6 0l12.6-12.6M1230.9 1142.8l12.6 12.6m-12.6 0l12.6-12.6M1240.5 1143.4l12.6 12.6m-12.6 0l12.6-12.6M1244.1 1142.4l12.6 12.6m-12.6 0l12.6-12.6M1249.9 1144.0l12.6 12.6m-12.6 0l12.6-12.6M1255.1 1142.1l12.6 12.6m-12.6 0l12.6-12.6M1259.4 1146.7l12.6 12.6m-12.6 0l12.6-12.6M1266.8 1143.2l12.6 12.6m-12.6 0l12.6-12.6M1271.8 1143.4l12.6 12.6m-12.6 0l12.6-12.6M1278.1 1141.9l12.6 12.6m-12.6 0l12.6-12.6M1286.7 1143.7l12.6 12.6m-12.6 0l12.6-12.6M1289.6 1145.9l12.6 12.6m-12.6 0l12.6-12.6M1295.3 1143.3l12.6 12.6m-12.6 0l12.6-12.6M1305.7 1142.5l12.6 12.6m-12.6 0l12.6-12.6M1309.4 1146.7l12.6 12.6m-12.6 0l12.6-12.6M1317.5 1142.7l12.6 12.6m-12.6 0l12.6-12.6M1320.8 1146.0l12.6 12.6m-12.6 0l12.6-12.6M1189.0 1148.2l12.6 12.6m-12.6 0l12.6-12.6M1193.8 1152.8l12.6 12.6m-12.6 0l12.6-12.6M1200.6 1151.7l12.6 12.6m-12.6 0l12.6-12.6M1205.4 1151.1l12.6 12.6m-12.6 0l12.6-12.6M1212.9 1150.7l12.6 12.6m-12.6 0l12.6-12.6M1218.5 1148.1l12.6 12.6m-12.6 0l12.6-12.6M1224.6 1149.1l12.6 12.6m-12.6 0l12.6-12.6M1229.5 1152.0l12.6 12.6m-12.6 0l12.6-12.6M1236.4 1150.1l12.6 12.6m-12.6 0l12.6-12.6M1246.2 1152.3l12.6 12.6m-12.6 0l12.6-12.6M1252.0 1152.9l12.6 12.6m-12.6 0l12.6-12.6M1253.5 1149.4l12.6 12.6m-12.6 0l12.6-12.6M1258.9 1151.8l12.6 12.6m-12.6 0l12.6-12.6M1268.7 1149.8l12.6 12.6m-12.6 0l12.6-12.6M1273.2 1151.7l12.6 12.6m-12.6 0l12.6-12.6M1280.9 1149.2l12.6 12.6m-12.6 0l12.6-12.6M1287.8 1149.8l12.6 12.6m-12.6 0l12.6-12.6M1292.5 1148.8l12.6 12.6m-12.6 0l12.6-12.6M1295.4 1153.2l12.6 12.6m-12.6 0l12.6-12.6M1305.1 1152.0l12.6 12.6m-12.6 0l12.6-12.6M1306.9 1147.9l12.6 12.6m-12.6 0l12.6-12.6M1313.7 1148.9l12.6 12.6m-12.6 0l12.6-12.6M1320.5 1150.0l12.6 12.6m-12.6 0l12.6-12.6M1190.9 1156.1l12.6 12.6m-12.6 0l12.6-12.6M1197.2 1158.7l12.6 12.6m-12.6 0l12.6-12.6M1200.4 1154.2l12.6 12.6m-12.6 0l12.6-12.6M1210.4 1156.2l12.6 12.6m-12.6 0l12.6-12.6M1216.3 1157.8l12.6 12.6m-12.6 0l12.6-12.6M1221.1 1158.7l12.6 12.6m-12.6 0l12.6-12.6M1226.5 1156.4l12.6 12.6m-12.6 0l12.6-12.6M1229.0 1157.9l12.6 12.6m-12.6 0l12.6-12.6M1237.3 1156.8l12.6 12.6m-12.6 0l12.6-12.6M1246.3 1154.5l12.6 12.6m-12.6 0l12.6-12.6M1256.9 1158.5l12.6 12.6m-12.6 0l12.6-12.6M1260.3 1157.0l12.6 12.6m-12.6 0l12.6-12.6M1270.5 1157.5l12.6 12.6m-12.6 0l12.6-12.6M1274.0 1155.2l12.6 12.6m-12.6 0l12.6-12.6M1277.1 1155.8l12.6 12.6m-12.6 0l12.6-12.6M1285.2 1154.9l12.6 12.6m-12.6 0l12.6-12.6M1290.6 1154.5l12.6 12.6m-12.6 0l12.6-12.6M1298.9 1157.7l12.6 12.6m-12.6 0l12.6-12.6M1302.1 1155.2l12.6 12.6m-12.6 0l12.6-12.6M1309.8 1156.4l12.6 12.6m-12.6 0l12.6-12.6M1187.1 1159.8l12.6 12.6m-12.6 0l12.6-12.6M1198.7 1164.2l12.6 12.6m-12.6 0l12.6-12.6M1210.6 1163.1l12.6 12.6m-12.6 0l12.6-12.6M1219.3 1160.8l12.6 12.6m-12.6 0l12.6-12.6M1226.0 1159.7l12.6 12.6m-12.6 0l12.6-12.6M1234.2 1163.6l12.6 12.6m-12.6 0l12.6-12.6M1238.5 1165.3l12.6 12.6m-12.6 0l12.6-12.6M1244.6 1161.2l12.6 12.6m-12.6 0l12.6-12.6M1248.2 1160.5l12.6 12.6m-12.6 0l12.6-12.6M1252.9 1164.3l12.6 12.6m-12.6 0l12.6-12.6M1263.7 1161.5l12.6 12.6m-12.6 0l12.6-12.6M1265.8 1163.5l12.6 12.6m-12.6 0l12.6-12.6M1275.8 1165.3l12.6 12.6m-12.6 0l12.6-12.6M1277.7 1164.4l12.6 12.6m-12.6 0l12.6-12.6M1287.7 1164.2l12.6 12.6m-12.6 0l12.6-12.6M1290.7 1160.8l12.6 12.6m-12.6 0l12.6-12.6M1299.7 1161.6l12.6 12.6m-12.6 0l12.6-12.6M1302.9 1163.0l12.6 12.6m-12.6 0l12.6-12.6M1189.8 1168.2l12.6 12.6m-12.6 0l12.6-12.6M1194.7 1168.3l12.6 12.6m-12.6 0l12.6-12.6M1202.7 1170.7l12.6 12.6m-12.6 0l12.6-12.6M1210.1 1166.7l12.6 12.6m-12.6 0l12.6-12.6M1212.5 1168.4l12.6 12.6m-12.6 0l12.6-12.6M1220.1 1167.8l12.6 12.6m-12.6 0l12.6-12.6M1223.9 1166.2l12.6 12.6m-12.6 0l12.6-12.6M1230.6 1168.5l12.6 12.6m-12.6 0l12.6-12.6M1240.5 1171.2l12.6 12.6m-12.6 0l12.6-12.6M1245.9 1171.5l12.6 12.6m-12.6 0l12.6-12.6M1252.5 1169.4l12.6 12.6m-12.6 0l12.6-12.6M1257.6 1166.1l12.6 12.6m-12.6 0l12.6-12.6M1262.8 1169.4l12.6 12.6m-12.6 0l12.6-12.6M1266.5 1169.1l12.6 12.6m-12.6 0l12.6-12.6M1276.4 1168.6l12.6 12.6m-12.6 0l12.6-12.6M1280.6 1167.5l12.6 12.6m-12.6 0l12.6-12.6M1284.8 1171.0l12.6 12.6m-12.6 0l12.6-12.6M1288.9 1166.8l12.6 12.6m-12.6 0l12.6-12.6M1192.6 1176.0l12.6 12.6m-12.6 0l12.6-12.6M1201.1 1172.7l12.6 12.6m-12.6 0l12.6-12.6M1210.5 1175.1l12.6 12.6m-12.6 0l12.6-12.6M1215.3 1172.5l12.6 12.6m-12.6 0l12.6-12.6M1221.4 1172.0l12.6 12.6m-12.6 0l12.6-12.6M1224.1 1173.9l12.6 12.6m-12.6 0l12.6-12.6M1228.8 1175.3l12.6 12.6m-12.6 0l12.6-12.6M1236.0 1173.5l12.6 12.6m-12.6 0l12.6-12.6M1244.9 1174.3l12.6 12.6m-12.6 0l12.6-12.6M1252.0 1175.4l12.6 12.6m-12.6 0l12.6-12.6M1257.9 1175.1l12.6 12.6m-12.6 0l12.6-12.6M1264.2 1176.9l12.6 12.6m-12.6 0l12.6-12.6M1265.7 1176.2l12.6 12.6m-12.6 0l12.6-12.6M1272.7 1176.3l12.6 12.6m-12.6 0l12.6-12.6M1280.8 1176.7l12.6 12.6m-12.6 0l12.6-12.6M1283.4 1173.9l12.6 12.6m-12.6 0l12.6-12.6M1196.8 1180.1l12.6 12.6m-12.6 0l12.6-12.6M1201.6 1178.6l12.6 12.6m-12.6 0l12.6-12.6M1209.8 1180.1l12.6 12.6m-12.6 0l12.6-12.6M1215.9 1181.4l12.6 12.6m-12.6 0l12.6-12.6M1217.2 1179.7l12.6 12.6m-12.6 0l12.6-12.6M1224.0 1183.1l12.6 12.6m-12.6 0l12.6-12.6M1232.2 1178.0l12.6 12.6m-12.6 0l12.6-12.6M1235.7 1179.9l12.6 12.6m-12.6 0l12.6-12.6M1243.5 1181.2l12.6 12.6m-12.6 0l12.6-12.6M1249.0 1179.8l12.6 12.6m-12.6 0l12.6-12.6M1252.7 1181.2l12.6 12.6m-12.6 0l12.6-12.6M1260.7 1177.8l12.6 12.6m-12.6 0l12.6-12.6M1267.5 1183.6l12.6 12.6m-12.6 0l12.6-12.6M1271.0 1178.6l12.6 12.6m-12.6 0l12.6-12.6M1199.7 1184.1l12.6 12.6m-12.6 0l12.6-12.6M1206.5 1185.6l12.6 12.6m-12.6 0l12.6-12.6M1215.1 1187.0l12.6 12.6m-12.6 0l12.6-12.6M1222.3 1185.7l12.6 12.6m-12.6 0l12.6-12.6M1228.2 1187.2l12.6 12.6m-12.6 0l12.6-12.6M1229.2 1184.8l12.6 12.6m-12.6 0l12.6-12.6M1238.2 1189.6l12.6 12.6m-12.6 0l12.6-12.6M1242.8 1188.3l12.6 12.6m-12.6 0l12.6-12.6M1249.3 1188.9l12.6 12.6m-12.6 0l12.6-12.6M1253.1 1186.6l12.6 12.6m-12.6 0l12.6-12.6M1232.3 1191.7l12.6 12.6m-12.6 0l12.6-12.6M1239.1 1191.2l12.6 12.6m-12.6 0l12.6-12.6M1336.7 949.1l12.6 12.6m-12.6 0l12.6-12.6M1350.4 948.9l12.6 12.6m-12.6 0l12.6-12.6M1296.6 959.8l12.6 12.6m-12.6 0l12.6-12.6M1314.9 957.2l12.6 12.6m-12.6 0l12.6-12.6M1319.2 951.1l12.6 12.6m-12.6 0l12.6-12.6M1330.1 950.0l12.6 12.6m-12.6 0l12.6-12.6M1338.7 954.8l12.6 12.6m-12.6 0l12.6-12.6M1353.7 955.3l12.6 12.6m-12.6 0l12.6-12.6M1378.8 956.4l12.6 12.6m-12.6 0l12.6-12.6M1283.2 968.4l12.6 12.6m-12.6 0l12.6-12.6M1303.6 965.8l12.6 12.6m-12.6 0l12.6-12.6M1346.0 964.5l12.6 12.6m-12.6 0l12.6-12.6M1355.0 966.9l12.6 12.6m-12.6 0l12.6-12.6M1367.6 963.7l12.6 12.6m-12.6 0l12.6-12.6M1378.1 966.2l12.6 12.6m-12.6 0l12.6-12.6M1384.7 966.9l12.6 12.6m-12.6 0l12.6-12.6M1281.0 976.9l12.6 12.6m-12.6 0l12.6-12.6M1288.2 972.2l12.6 12.6m-12.6 0l12.6-12.6M1364.3 974.9l12.6 12.6m-12.6 0l12.6-12.6M1375.4 971.4l12.6 12.6m-12.6 0l12.6-12.6M1384.4 977.5l12.6 12.6m-12.6 0l12.6-12.6M1271.9 990.0l12.6 12.6m-12.6 0l12.6-12.6M1276.3 989.5l12.6 12.6m-12.6 0l12.6-12.6M1387.8 991.3l12.6 12.6m-12.6 0l12.6-12.6M1250.2 1002.2l12.6 12.6m-12.6 0l12.6-12.6M1259.8 994.8l12.6 12.6m-12.6 0l12.6-12.6M1264.9 998.9l12.6 12.6m-12.6 0l12.6-12.6M1272.3 1004.1l12.6 12.6m-12.6 0l12.6-12.6M1387.3 998.6l12.6 12.6m-12.6 0l12.6-12.6M1246.2 1004.7l12.6 12.6m-12.6 0l12.6-12.6M1259.7 1005.0l12.6 12.6m-12.6 0l12.6-12.6M1267.8 1006.2l12.6 12.6m-12.6 0l12.6-12.6M1389.7 1005.9l12.6 12.6m-12.6 0l12.6-12.6M1393.8 1011.9l12.6 12.6m-12.6 0l12.6-12.6M1219.7 1021.2l12.6 12.6m-12.6 0l12.6-12.6M1229.2 1020.3l12.6 12.6m-12.6 0l12.6-12.6M1247.2 1019.9l12.6 12.6m-12.6 0l12.6-12.6M1257.7 1016.5l12.6 12.6m-12.6 0l12.6-12.6M1392.4 1015.6l12.6 12.6m-12.6 0l12.6-12.6M1399.8 1025.8l12.6 12.6m-12.6 0l12.6-12.6M1201.3 1034.9l12.6 12.6m-12.6 0l12.6-12.6M1212.8 1031.3l12.6 12.6m-12.6 0l12.6-12.6M1217.6 1031.8l12.6 12.6m-12.6 0l12.6-12.6M1229.3 1033.3l12.6 12.6m-12.6 0l12.6-12.6M1240.7 1032.6l12.6 12.6m-12.6 0l12.6-12.6M1254.1 1030.3l12.6 12.6m-12.6 0l12.6-12.6M1395.8 1035.8l12.6 12.6m-12.6 0l12.6-12.6M1157.5 1044.8l12.6 12.6m-12.6 0l12.6-12.6M1164.7 1045.5l12.6 12.6m-12.6 0l12.6-12.6M1174.9 1040.1l12.6 12.6m-12.6 0l12.6-12.6M1184.5 1041.5l12.6 12.6m-12.6 0l12.6-12.6M1200.9 1040.4l12.6 12.6m-12.6 0l12.6-12.6M1216.0 1038.1l12.6 12.6m-12.6 0l12.6-12.6M1223.6 1039.8l12.6 12.6m-12.6 0l12.6-12.6M1234.7 1045.8l12.6 12.6m-12.6 0l12.6-12.6M1247.0 1037.9l12.6 12.6m-12.6 0l12.6-12.6M1252.9 1043.8l12.6 12.6m-12.6 0l12.6-12.6M1137.8 1058.2l12.6 12.6m-12.6 0l12.6-12.6M1148.5 1055.2l12.6 12.6m-12.6 0l12.6-12.6M1153.4 1055.1l12.6 12.6m-12.6 0l12.6-12.6M1171.5 1056.9l12.6 12.6m-12.6 0l12.6-12.6M1174.2 1056.1l12.6 12.6m-12.6 0l12.6-12.6M1188.0 1050.0l12.6 12.6m-12.6 0l12.6-12.6M1205.8 1055.6l12.6 12.6m-12.6 0l12.6-12.6M1214.4 1049.7l12.6 12.6m-12.6 0l12.6-12.6M1226.3 1058.5l12.6 12.6m-12.6 0l12.6-12.6M1238.2 1056.4l12.6 12.6m-12.6 0l12.6-12.6M1390.9 1055.7l12.6 12.6m-12.6 0l12.6-12.6M1136.4 1068.4l12.6 12.6m-12.6 0l12.6-12.6M1143.9 1065.7l12.6 12.6m-12.6 0l12.6-12.6M1160.4 1067.9l12.6 12.6m-12.6 0l12.6-12.6M1162.2 1064.6l12.6 12.6m-12.6 0l12.6-12.6M1173.4 1060.4l12.6 12.6m-12.6 0l12.6-12.6M1193.1 1063.8l12.6 12.6m-12.6 0l12.6-12.6M1201.9 1064.2l12.6 12.6m-12.6 0l12.6-12.6M1209.9 1061.6l12.6 12.6m-12.6 0l12.6-12.6M1221.1 1068.5l12.6 12.6m-12.6 0l12.6-12.6M1235.0 1062.4l12.6 12.6m-12.6 0l12.6-12.6M1240.2 1062.2l12.6 12.6m-12.6 0l12.6-12.6M1388.0 1059.2l12.6 12.6m-12.6 0l12.6-12.6M1395.1 1069.6l12.6 12.6m-12.6 0l12.6-12.6M1132.0 1074.1l12.6 12.6m-12.6 0l12.6-12.6M1141.3 1076.3l12.6 12.6m-12.6 0l12.6-12.6M1160.7 1075.9l12.6 12.6m-12.6 0l12.6-12.6M1166.3 1080.4l12.6 12.6m-12.6 0l12.6-12.6M1183.0 1077.5l12.6 12.6m-12.6 0l12.6-12.6M1185.0 1077.1l12.6 12.6m-12.6 0l12.6-12.6M1200.1 1080.7l12.6 12.6m-12.6 0l12.6-12.6M1210.2 1077.5l12.6 12.6m-12.6 0l12.6-12.6M1224.2 1074.3l12.6 12.6m-12.6 0l12.6-12.6M1390.6 1073.4l12.6 12.6m-12.6 0l12.6-12.6M1138.1 1088.6l12.6 12.6m-12.6 0l12.6-12.6M1144.4 1091.8l12.6 12.6m-12.6 0l12.6-12.6M1159.0 1088.8l12.6 12.6m-12.6 0l12.6-12.6M1165.3 1083.0l12.6 12.6m-12.6 0l12.6-12.6M1179.5 1090.3l12.6 12.6m-12.6 0l12.6-12.6M1192.9 1085.0l12.6 12.6m-12.6 0l12.6-12.6M1196.7 1086.9l12.6 12.6m-12.6 0l12.6-12.6M1215.9 1083.0l12.6 12.6m-12.6 0l12.6-12.6M1225.3 1083.1l12.6 12.6m-12.6 0l12.6-12.6M1379.5 1086.4l12.6 12.6m-12.6 0l12.6-12.6M1388.3 1088.6l12.6 12.6m-12.6 0l12.6-12.6M1135.0 1095.4l12.6 12.6m-12.6 0l12.6-12.6M1147.1 1095.1l12.6 12.6m-12.6 0l12.6-12.6M1159.7 1092.7l12.6 12.6m-12.6 0l12.6-12.6M1171.3 1098.4l12.6 12.6m-12.6 0l12.6-12.6M1177.1 1102.5l12.6 12.6m-12.6 0l12.6-12.6M1187.1 1094.9l12.6 12.6m-12.6 0l12.6-12.6M1196.0 1098.2l12.6 12.6m-12.6 0l12.6-12.6M1378.5 1098.6l12.6 12.6m-12.6 0l12.6-12.6M1386.6 1098.5l12.6 12.6m-12.6 0l12.6-12.6M1148.5 1108.7l12.6 12.6m-12.6 0l12.6-12.6M1161.1 1113.1l12.6 12.6m-12.6 0l12.6-12.6M1170.4 1112.2l12.6 12.6m-12.6 0l12.6-12.6M1180.3 1112.9l12.6 12.6m-12.6 0l12.6-12.6M1185.6 1110.9l12.6 12.6m-12.6 0l12.6-12.6M1202.9 1109.9l12.6 12.6m-12.6 0l12.6-12.6M1209.2 1103.9l12.6 12.6m-12.6 0l12.6-12.6M1367.1 1106.9l12.6 12.6m-12.6 0l12.6-12.6M1374.8 1109.5l12.6 12.6m-12.6 0l12.6-12.6M1384.6 1111.9l12.6 12.6m-12.6 0l12.6-12.6M1140.5 1119.8l12.6 12.6m-12.6 0l12.6-12.6M1155.9 1114.9l12.6 12.6m-12.6 0l12.6-12.6M1169.1 1122.2l12.6 12.6m-12.6 0l12.6-12.6M1179.6 1118.6l12.6 12.6m-12.6 0l12.6-12.6M1189.8 1120.7l12.6 12.6m-12.6 0l12.6-12.6M1359.9 1122.4l12.6 12.6m-12.6 0l12.6-12.6M1370.6 1124.3l12.6 12.6m-12.6 0l12.6-12.6M1379.1 1122.1l12.6 12.6m-12.6 0l12.6-12.6M1382.9 1116.5l12.6 12.6m-12.6 0l12.6-12.6M1142.0 1132.2l12.6 12.6m-12.6 0l12.6-12.6M1162.1 1128.6l12.6 12.6m-12.6 0l12.6-12.6M1162.7 1127.1l12.6 12.6m-12.6 0l12.6-12.6M1177.1 1135.1l12.6 12.6m-12.6 0l12.6-12.6M1351.6 1131.6l12.6 12.6m-12.6 0l12.6-12.6M1364.4 1125.3l12.6 12.6m-12.6 0l12.6-12.6M1145.5 1143.2l12.6 12.6m-12.6 0l12.6-12.6M1153.5 1138.9l12.6 12.6m-12.6 0l12.6-12.6M1172.2 1140.4l12.6 12.6m-12.6 0l12.6-12.6M1174.3 1142.7l12.6 12.6m-12.6 0l12.6-12.6M1185.6 1138.4l12.6 12.6m-12.6 0l12.6-12.6M1335.9 1145.3l12.6 12.6m-12.6 0l12.6-12.6M1345.2 1144.4l12.6 12.6m-12.6 0l12.6-12.6M1349.6 1137.2l12.6 12.6m-12.6 0l12.6-12.6M1370.9 1145.0l12.6 12.6m-12.6 0l12.6-12.6M1371.6 1136.7l12.6 12.6m-12.6 0l12.6-12.6M1141.9 1147.4l12.6 12.6m-12.6 0l12.6-12.6M1159.5 1148.3l12.6 12.6m-12.6 0l12.6-12.6M1172.9 1155.0l12.6 12.6m-12.6 0l12.6-12.6M1175.3 1156.1l12.6 12.6m-12.6 0l12.6-12.6M1186.0 1152.8l12.6 12.6m-12.6 0l12.6-12.6M1314.3 1156.1l12.6 12.6m-12.6 0l12.6-12.6M1334.4 1149.5l12.6 12.6m-12.6 0l12.6-12.6M1342.9 1148.4l12.6 12.6m-12.6 0l12.6-12.6M1359.9 1153.2l12.6 12.6m-12.6 0l12.6-12.6M1364.1 1148.2l12.6 12.6m-12.6 0l12.6-12.6M1148.7 1158.3l12.6 12.6m-12.6 0l12.6-12.6M1152.0 1159.5l12.6 12.6m-12.6 0l12.6-12.6M1169.8 1164.8l12.6 12.6m-12.6 0l12.6-12.6M1178.9 1163.2l12.6 12.6m-12.6 0l12.6-12.6M1306.2 1163.1l12.6 12.6m-12.6 0l12.6-12.6M1327.0 1165.4l12.6 12.6m-12.6 0l12.6-12.6M1337.5 1166.6l12.6 12.6m-12.6 0l12.6-12.6M1347.4 1169.1l12.6 12.6m-12.6 0l12.6-12.6M1357.5 1161.2l12.6 12.6m-12.6 0l12.6-12.6M1362.9 1162.7l12.6 12.6m-12.6 0l12.6-12.6M1154.7 1176.1l12.6 12.6m-12.6 0l12.6-12.6M1166.2 1175.1l12.6 12.6m-12.6 0l12.6-12.6M1183.8 1171.0l12.6 12.6m-12.6 0l12.6-12.6M1190.0 1176.3l12.6 12.6m-12.6 0l12.6-12.6M1290.8 1176.8l12.6 12.6m-12.6 0l12.6-12.6M1302.4 1177.5l12.6 12.6m-12.6 0l12.6-12.6M1307.9 1172.0l12.6 12.6m-12.6 0l12.6-12.6M1316.5 1176.8l12.6 12.6m-12.6 0l12.6-12.6M1329.5 1172.1l12.6 12.6m-12.6 0l12.6-12.6M1165.5 1184.7l12.6 12.6m-12.6 0l12.6-12.6M1180.8 1185.1l12.6 12.6m-12.6 0l12.6-12.6M1192.2 1181.2l12.6 12.6m-12.6 0l12.6-12.6M1279.5 1186.7l12.6 12.6m-12.6 0l12.6-12.6M1290.5 1182.2l12.6 12.6m-12.6 0l12.6-12.6M1295.8 1181.3l12.6 12.6m-12.6 0l12.6-12.6M1316.0 1184.4l12.6 12.6m-12.6 0l12.6-12.6M1323.4 1186.5l12.6 12.6m-12.6 0l12.6-12.6M1329.7 1180.9l12.6 12.6m-12.6 0l12.6-12.6M1166.4 1195.2l12.6 12.6m-12.6 0l12.6-12.6M1180.3 1196.4l12.6 12.6m-12.6 0l12.6-12.6M1193.8 1191.8l12.6 12.6m-12.6 0l12.6-12.6M1202.5 1200.4l12.6 12.6m-12.6 0l12.6-12.6M1208.8 1191.5l12.6 12.6m-12.6 0l12.6-12.6M1222.0 1192.5l12.6 12.6m-12.6 0l12.6-12.6M1233.3 1199.0l12.6 12.6m-12.6 0l12.6-12.6M1240.2 1192.5l12.6 12.6m-12.6 0l12.6-12.6M1255.5 1193.1l12.6 12.6m-12.6 0l12.6-12.6M1263.7 1196.0l12.6 12.6m-12.6 0l12.6-12.6M1273.5 1191.9l12.6 12.6m-12.6 0l12.6-12.6M785.2 1096.7l12.6 12.6m-12.6 0l12.6-12.6M795.6 1097.8l12.6 12.6m-12.6 0l12.6-12.6M776.0 1119.2l12.6 12.6m-12.6 0l12.6-12.6M762.4 1148.0l12.6 12.6m-12.6 0l12.6-12.6M809.2 1144.3l12.6 12.6m-12.6 0l12.6-12.6M810.7 1145.7l12.6 12.6m-12.6 0l12.6-12.6M818.5 1153.9l12.6 12.6m-12.6 0l12.6-12.6M757.6 1170.0l12.6 12.6m-12.6 0l12.6-12.6M796.4 1178.0l12.6 12.6m-12.6 0l12.6-12.6M799.9 1191.6l12.6 12.6m-12.6 0l12.6-12.6M806.8 1203.6l12.6 12.6m-12.6 0l12.6-12.6M848.0 1194.0l12.6 12.6m-12.6 0l12.6-12.6M672.9 1195.3l12.6 12.6m-12.6 0l12.6-12.6M874.9 1110.7l12.6 12.6m-12.6 0l12.6-12.6M927.2 1138.1l12.6 12.6m-12.6 0l12.6-12.6M921.6 1166.1l12.6 12.6m-12.6 0l12.6-12.6M955.9 1157.5l12.6 12.6m-12.6 0l12.6-12.6M967.3 1163.4l12.6 12.6m-12.6 0l12.6-12.6M957.9 1178.1l12.6 12.6m-12.6 0l12.6-12.6M977.7 1188.8l12.6 12.6m-12.6 0l12.6-12.6M992.6 1168.7l12.6 12.6m-12.6 0l12.6-12.6M999.3 1167.8l12.6 12.6m-12.6 0l12.6-12.6M1010.7 1152.4l12.6 12.6m-12.6 0l12.6-12.6M1020.7 1150.4l12.6 12.6m-12.6 0l12.6-12.6M1032.7 1153.1l12.6 12.6m-12.6 0l12.6-12.6M1031.4 1169.8l12.6 12.6m-12.6 0l12.6-12.6M1027.7 1161.7l12.6 12.6m-12.6 0l12.6-12.6M996.0 1201.9l12.6 12.6m-12.6 0l12.6-12.6M1028.7 1209.9l12.6 12.6m-12.6 0l12.6-12.6M1012.0 1201.1l12.6 12.6m-12.6 0l12.6-12.6M911.1 1213.0l12.6 12.6m-12.6 0l12.6-12.6M954.8 1212.6l12.6 12.6m-12.6 0l12.6-12.6M877.1 1223.9l12.6 12.6m-12.6 0l12.6-12.6M975.3 1228.6l12.6 12.6m-12.6 0l12.6-12.6M992.7 1236.6l12.6 12.6m-12.6 0l12.6-12.6M989.7 1239.2l12.6 12.6m-12.6 0l12.6-12.6M995.7 1233.7l12.6 12.6m-12.6 0l12.6-12.6M955.2 1240.0l12.6 12.6m-12.6 0l12.6-12.6M1004.7 1251.3l12.6 12.6m-12.6 0l12.6-12.6M1048.1 1223.9l12.6 12.6m-12.6 0l12.6-12.6M1048.1 1242.6l12.6 12.6m-12.6 0l12.6-12.6M882.4 1250.0l12.6 12.6m-12.6 0l12.6-12.6M897.1 1244.0l12.6 12.6m-12.6 0l12.6-12.6M905.1 1259.3l12.6 12.6m-12.6 0l12.6-12.6M919.8 1245.3l12.6 12.6m-12.6 0l12.6-12.6M923.8 1252.7l12.6 12.6m-12.6 0l12.6-12.6M952.6 1260.0l12.6 12.6m-12.6 0l12.6-12.6M967.3 1266.0l12.6 12.6m-12.6 0l12.6-12.6M990.0 1262.0l12.6 12.6m-12.6 0l12.6-12.6M1017.4 1266.0l12.6 12.6m-12.6 0l12.6-12.6M1040.7 1268.7l12.6 12.6m-12.6 0l12.6-12.6M982.0 1115.7l12.6 12.6m-12.6 0l12.6-12.6M897.5 1134.7l12.6 12.6m-12.6 0l12.6-12.6M891.8 1175.6l12.6 12.6m-12.6 0l12.6-12.6M1024.7 1126.6l12.6 12.6m-12.6 0l12.6-12.6M1041.7 1138.1l12.6 12.6m-12.6 0l12.6-12.6M1110.4 919.7l12.6 12.6m-12.6 0l12.6-12.6M987.4 976.3l12.6 12.6m-12.6 0l12.6-12.6M1001.3 967.5l12.6 12.6m-12.6 0l12.6-12.6M1012.4 967.5l12.6 12.6m-12.6 0l12.6-12.6M1026.3 973.3l12.6 12.6m-12.6 0l12.6-12.6M1030.0 981.4l12.6 12.6m-12.6 0l12.6-12.6M1036.6 974.1l12.6 12.6m-12.6 0l12.6-12.6M1042.5 971.9l12.6 12.6m-12.6 0l12.6-12.6M1045.4 977.0l12.6 12.6m-12.6 0l12.6-12.6M1049.8 980.7l12.6 12.6m-12.6 0l12.6-12.6M1070.4 977.0l12.6 12.6m-12.6 0l12.6-12.6M1095.4 991.7l12.6 12.6m-12.6 0l12.6-12.6M1093.6 1018.9l12.6 12.6m-12.6 0l12.6-12.6M996.9 1020.4l12.6 12.6m-12.6 0l12.6-12.6M1035.1 1028.4l12.6 12.6m-12.6 0l12.6-12.6M1038.8 1006.4l12.6 12.6m-12.6 0l12.6-12.6M1068.2 998.3l12.6 12.6m-12.6 0l12.6-12.6M1127.0 963.8l12.6 12.6m-12.6 0l12.6-12.6M1133.6 992.4l12.6 12.6m-12.6 0l12.6-12.6M1135.1 1005.7l12.6 12.6m-12.6 0l12.6-12.6M1145.3 986.6l12.6 12.6m-12.6 0l12.6-12.6M1147.7 992.7l12.6 12.6m-12.6 0l12.6-12.6M1160.0 996.9l12.6 12.6m-12.6 0l12.6-12.6M1163.0 971.9l12.6 12.6m-12.6 0l12.6-12.6M1167.4 964.5l12.6 12.6m-12.6 0l12.6-12.6M1171.8 974.8l12.6 12.6m-12.6 0l12.6-12.6M1165.9 1001.3l12.6 12.6m-12.6 0l12.6-12.6M1189.4 973.3l12.6 12.6m-12.6 0l12.6-12.6M1173.3 949.8l12.6 12.6m-12.6 0l12.6-12.6M1185.0 1004.2l12.6 12.6m-12.6 0l12.6-12.6M1174.7 1030.7l12.6 12.6m-12.6 0l12.6-12.6M1198.2 1011.5l12.6 12.6m-12.6 0l12.6-12.6M1139.5 1042.4l12.6 12.6m-12.6 0l12.6-12.6M984.6 976.0l12.6 12.6m-12.6 0l12.6-12.6M911.1 1005.7l12.6 12.6m-12.6 0l12.6-12.6M992.7 1018.7l12.6 12.6m-12.6 0l12.6-12.6M1069.1 1117.0l12.6 12.6m-12.6 0l12.6-12.6M1091.1 1117.0l12.6 12.6m-12.6 0l12.6-12.6M1049.7 1131.7l12.6 12.6m-12.6 0l12.6-12.6M1094.5 1137.7l12.6 12.6m-12.6 0l12.6-12.6M1117.8 1131.1l12.6 12.6m-12.6 0l12.6-12.6M1129.2 1129.1l12.6 12.6m-12.6 0l12.6-12.6M1137.2 1126.4l12.6 12.6m-12.6 0l12.6-12.6M1145.2 1129.7l12.6 12.6m-12.6 0l12.6-12.6M1153.3 1137.1l12.6 12.6m-12.6 0l12.6-12.6M1162.6 1131.1l12.6 12.6m-12.6 0l12.6-12.6M1174.6 1135.1l12.6 12.6m-12.6 0l12.6-12.6M1184.7 1127.1l12.6 12.6m-12.6 0l12.6-12.6M1187.7 1129.7l12.6 12.6m-12.6 0l12.6-12.6M1193.3 1136.4l12.6 12.6m-12.6 0l12.6-12.6M1200.0 1145.8l12.6 12.6m-12.6 0l12.6-12.6M1208.0 1140.4l12.6 12.6m-12.6 0l12.6-12.6M1224.1 1128.4l12.6 12.6m-12.6 0l12.6-12.6M1226.7 1139.1l12.6 12.6m-12.6 0l12.6-12.6M1238.7 1130.7l12.6 12.6m-12.6 0l12.6-12.6M1077.1 1162.5l12.6 12.6m-12.6 0l12.6-12.6M1090.5 1173.2l12.6 12.6m-12.6 0l12.6-12.6M1115.8 1151.1l12.6 12.6m-12.6 0l12.6-12.6M1133.2 1168.5l12.6 12.6m-12.6 0l12.6-12.6M1145.2 1179.2l12.6 12.6m-12.6 0l12.6-12.6M1121.2 1183.2l12.6 12.6m-12.6 0l12.6-12.6M1120.5 1196.5l12.6 12.6m-12.6 0l12.6-12.6M1138.6 1197.9l12.6 12.6m-12.6 0l12.6-12.6M1146.6 1196.5l12.6 12.6m-12.6 0l12.6-12.6M1154.6 1207.2l12.6 12.6m-12.6 0l12.6-12.6M1161.3 1193.9l12.6 12.6m-12.6 0l12.6-12.6M1166.6 1164.5l12.6 12.6m-12.6 0l12.6-12.6M1177.3 1160.5l12.6 12.6m-12.6 0l12.6-12.6M1181.3 1172.5l12.6 12.6m-12.6 0l12.6-12.6M1188.0 1157.8l12.6 12.6m-12.6 0l12.6-12.6M1193.7 1165.7l12.6 12.6m-12.6 0l12.6-12.6M1217.4 1172.5l12.6 12.6m-12.6 0l12.6-12.6M1209.4 1177.8l12.6 12.6m-12.6 0l12.6-12.6M1228.1 1179.2l12.6 12.6m-12.6 0l12.6-12.6M1237.4 1187.2l12.6 12.6m-12.6 0l12.6-12.6M1204.0 1185.8l12.6 12.6m-12.6 0l12.6-12.6M1210.7 1199.2l12.6 12.6m-12.6 0l12.6-12.6M1224.1 1212.6l12.6 12.6m-12.6 0l12.6-12.6M1197.3 1215.2l12.6 12.6m-12.6 0l12.6-12.6M1190.7 1225.9l12.6 12.6m-12.6 0l12.6-12.6M1201.3 1237.9l12.6 12.6m-12.6 0l12.6-12.6M1210.7 1240.6l12.6 12.6m-12.6 0l12.6-12.6M1228.1 1237.9l12.6 12.6m-12.6 0l12.6-12.6M1185.3 1242.0l12.6 12.6m-12.6 0l12.6-12.6M1159.9 1243.3l12.6 12.6m-12.6 0l12.6-12.6M1159.9 1255.3l12.6 12.6m-12.6 0l12.6-12.6M1153.3 1229.9l12.6 12.6m-12.6 0l12.6-12.6M1139.9 1215.2l12.6 12.6m-12.6 0l12.6-12.6M1163.3 1215.2l12.6 12.6m-12.6 0l12.6-12.6M1075.8 1192.5l12.6 12.6m-12.6 0l12.6-12.6M1097.1 1211.2l12.6 12.6m-12.6 0l12.6-12.6M1050.4 1223.3l12.6 12.6m-12.6 0l12.6-12.6M1077.1 1224.6l12.6 12.6m-12.6 0l12.6-12.6M1087.8 1229.9l12.6 12.6m-12.6 0l12.6-12.6M1061.1 1248.6l12.6 12.6m-12.6 0l12.6-12.6M1083.8 1254.0l12.6 12.6m-12.6 0l12.6-12.6M1071.8 1264.7l12.6 12.6m-12.6 0l12.6-12.6M1116.5 1242.0l12.6 12.6m-12.6 0l12.6-12.6M1139.9 1255.3l12.6 12.6m-12.6 0l12.6-12.6M1129.2 1268.7l12.6 12.6m-12.6 0l12.6-12.6M1183.7 1143.7l12.6 12.6m-12.6 0l12.6-12.6M1205.7 1158.7l12.6 12.6m-12.6 0l12.6-12.6M1213.7 1153.7l12.6 12.6m-12.6 0l12.6-12.6M1179.7 1148.7l12.6 12.6m-12.6 0l12.6-12.6M1218.7 1163.7l12.6 12.6m-12.6 0l12.6-12.6M1188.7 1178.7l12.6 12.6m-12.6 0l12.6-12.6M1170.0 1258.8l12.6 12.6m-12.6 0l12.6-12.6M1079.6 1244.1l12.6 12.6m-12.6 0l12.6-12.6M1128.9 1148.0l12.6 12.6m-12.6 0l12.6-12.6M1162.1 1146.0l12.6 12.6m-12.6 0l12.6-12.6M1119.7 1164.7l12.6 12.6m-12.6 0l12.6-12.6M1170.0 1185.0l12.6 12.6m-12.6 0l12.6-12.6M1179.1 1209.4l12.6 12.6m-12.6 0l12.6-12.6M1138.1 1227.4l12.6 12.6m-12.6 0l12.6-12.6M1128.9 1234.4l12.6 12.6m-12.6 0l12.6-12.6M1179.2 1232.6l12.6 12.6m-12.6 0l12.6-12.6M1199.9 1199.7l12.6 12.6m-12.6 0l12.6-12.6M1232.1 1159.0l12.6 12.6m-12.6 0l12.6-12.6M1380.0 1135.3l12.6 12.6m-12.6 0l12.6-12.6M1349.9 1144.4l12.6 12.6m-12.6 0l12.6-12.6M1355.9 1129.1l12.6 12.6m-12.6 0l12.6-12.6M1362.0 1116.4l12.6 12.6m-12.6 0l12.6-12.6M1327.2 1145.1l12.6 12.6m-12.6 0l12.6-12.6M1321.9 1136.4l12.6 12.6m-12.6 0l12.6-12.6M1324.5 1163.8l12.6 12.6m-12.6 0l12.6-12.6M1331.2 1181.2l12.6 12.6m-12.6 0l12.6-12.6M1302.5 1183.8l12.6 12.6m-12.6 0l12.6-12.6M1281.8 1191.9l12.6 12.6m-12.6 0l12.6-12.6M1275.1 1183.8l12.6 12.6m-12.6 0l12.6-12.6M1247.7 1190.5l12.6 12.6m-12.6 0l12.6-12.6M1303.8 1209.2l12.6 12.6m-12.6 0l12.6-12.6M1309.9 1220.6l12.6 12.6m-12.6 0l12.6-12.6M1250.4 1242.6l12.6 12.6m-12.6 0l12.6-12.6M1233.7 1233.7l12.6 12.6m-12.6 0l12.6-12.6M1292.6 1235.6l12.6 12.6m-12.6 0l12.6-12.6M1332.6 945.8l12.6 12.6m-12.6 0l12.6-12.6M1366.6 954.5l12.6 12.6m-12.6 0l12.6-12.6M1327.2 953.2l12.6 12.6m-12.6 0l12.6-12.6M1308.5 967.2l12.6 12.6m-12.6 0l12.6-12.6M1303.2 982.6l12.6 12.6m-12.6 0l12.6-12.6M1273.8 992.6l12.6 12.6m-12.6 0l12.6-12.6M1262.4 991.3l12.6 12.6m-12.6 0l12.6-12.6M1239.0 997.9l12.6 12.6m-12.6 0l12.6-12.6M1248.4 999.3l12.6 12.6m-12.6 0l12.6-12.6M1380.7 994.6l12.6 12.6m-12.6 0l12.6-12.6M1391.3 1008.6l12.6 12.6m-12.6 0l12.6-12.6M1399.4 1017.3l12.6 12.6m-12.6 0l12.6-12.6M1415.4 1018.7l12.6 12.6m-12.6 0l12.6-12.6M1370.0 969.9l12.6 12.6m-12.6 0l12.6-12.6M1370.7 980.6l12.6 12.6m-12.6 0l12.6-12.6M716.6 1226.3l12.6 12.6m-12.6 0l12.6-12.6M759.9 1220.9l12.6 12.6m-12.6 0l12.6-12.6M824.9 1223.8l12.6 12.6m-12.6 0l12.6-12.6M833.0 1223.1l12.6 12.6m-12.6 0l12.6-12.6M829.3 1224.6l12.6 12.6m-12.6 0l12.6-12.6M844.7 1245.4l12.6 12.6m-12.6 0l12.6-12.6M787.4 1267.5l12.6 12.6m-12.6 0l12.6-12.6M781.5 1273.1l12.6 12.6m-12.6 0l12.6-12.6M815.3 1276.7l12.6 12.6m-12.6 0l12.6-12.6M817.7 1278.7l12.6 12.6m-12.6 0l12.6-12.6M781.5 1302.2l12.6 12.6m-12.6 0l12.6-12.6M808.0 1340.4l12.6 12.6m-12.6 0l12.6-12.6M658.8 1298.8l12.6 12.6m-12.6 0l12.6-12.6M905.8 1265.0l12.6 12.6m-12.6 0l12.6-12.6M931.9 1275.1l12.6 12.6m-12.6 0l12.6-12.6M909.8 1283.1l12.6 12.6m-12.6 0l12.6-12.6M952.6 1273.7l12.6 12.6m-12.6 0l12.6-12.6M967.3 1270.4l12.6 12.6m-12.6 0l12.6-12.6M968.6 1277.1l12.6 12.6m-12.6 0l12.6-12.6M990.0 1269.0l12.6 12.6m-12.6 0l12.6-12.6M991.7 1271.7l12.6 12.6m-12.6 0l12.6-12.6M1016.7 1267.7l12.6 12.6m-12.6 0l12.6-12.6M1039.4 1273.1l12.6 12.6m-12.6 0l12.6-12.6M1026.0 1281.1l12.6 12.6m-12.6 0l12.6-12.6M1032.7 1277.7l12.6 12.6m-12.6 0l12.6-12.6M893.8 1307.1l12.6 12.6m-12.6 0l12.6-12.6M931.9 1315.1l12.6 12.6m-12.6 0l12.6-12.6M997.3 1301.1l12.6 12.6m-12.6 0l12.6-12.6M1026.7 1303.1l12.6 12.6m-12.6 0l12.6-12.6M1014.0 1318.5l12.6 12.6m-12.6 0l12.6-12.6M1016.0 1323.2l12.6 12.6m-12.6 0l12.6-12.6M909.8 1337.2l12.6 12.6m-12.6 0l12.6-12.6M952.6 1333.8l12.6 12.6m-12.6 0l12.6-12.6M1038.7 1340.5l12.6 12.6m-12.6 0l12.6-12.6M1016.7 1349.2l12.6 12.6m-12.6 0l12.6-12.6M952.6 1359.9l12.6 12.6m-12.6 0l12.6-12.6M1007.3 1363.9l12.6 12.6m-12.6 0l12.6-12.6M1003.7 1369.7l12.6 12.6m-12.6 0l12.6-12.6M988.6 1378.6l12.6 12.6m-12.6 0l12.6-12.6M994.0 1382.6l12.6 12.6m-12.6 0l12.6-12.6M995.7 1384.7l12.6 12.6m-12.6 0l12.6-12.6M893.8 1369.2l12.6 12.6m-12.6 0l12.6-12.6M1051.4 1379.9l12.6 12.6m-12.6 0l12.6-12.6M1050.1 1306.5l12.6 12.6m-12.6 0l12.6-12.6M1051.4 1337.2l12.6 12.6m-12.6 0l12.6-12.6M877.1 1397.3l12.6 12.6m-12.6 0l12.6-12.6M915.8 1404.7l12.6 12.6m-12.6 0l12.6-12.6M921.8 1410.7l12.6 12.6m-12.6 0l12.6-12.6M967.3 1412.0l12.6 12.6m-12.6 0l12.6-12.6M973.9 1409.3l12.6 12.6m-12.6 0l12.6-12.6M1023.4 1410.0l12.6 12.6m-12.6 0l12.6-12.6M953.4 1287.9l12.6 12.6m-12.6 0l12.6-12.6M976.6 1297.5l12.6 12.6m-12.6 0l12.6-12.6M970.9 1301.9l12.6 12.6m-12.6 0l12.6-12.6M979.0 1317.0l12.6 12.6m-12.6 0l12.6-12.6M1049.0 1293.9l12.6 12.6m-12.6 0l12.6-12.6M1035.9 1415.5l12.6 12.6m-12.6 0l12.6-12.6M1049.7 1404.0l12.6 12.6m-12.6 0l12.6-12.6M1071.8 1272.4l12.6 12.6m-12.6 0l12.6-12.6M1050.4 1280.4l12.6 12.6m-12.6 0l12.6-12.6M1080.4 1281.7l12.6 12.6m-12.6 0l12.6-12.6M1131.9 1274.4l12.6 12.6m-12.6 0l12.6-12.6M1071.8 1294.4l12.6 12.6m-12.6 0l12.6-12.6M1067.7 1298.4l12.6 12.6m-12.6 0l12.6-12.6M1075.7 1290.7l12.6 12.6m-12.6 0l12.6-12.6M1097.1 1291.8l12.6 12.6m-12.6 0l12.6-12.6M1109.8 1291.1l12.6 12.6m-12.6 0l12.6-12.6M1101.1 1302.4l12.6 12.6m-12.6 0l12.6-12.6M1097.1 1306.5l12.6 12.6m-12.6 0l12.6-12.6M1151.9 1300.4l12.6 12.6m-12.6 0l12.6-12.6M1226.1 1283.7l12.6 12.6m-12.6 0l12.6-12.6M1051.7 1309.1l12.6 12.6m-12.6 0l12.6-12.6M1075.8 1313.1l12.6 12.6m-12.6 0l12.6-12.6M1071.7 1315.7l12.6 12.6m-12.6 0l12.6-12.6M1055.1 1325.2l12.6 12.6m-12.6 0l12.6-12.6M1060.7 1320.7l12.6 12.6m-12.6 0l12.6-12.6M1068.4 1326.5l12.6 12.6m-12.6 0l12.6-12.6M1093.1 1326.5l12.6 12.6m-12.6 0l12.6-12.6M1115.8 1315.8l12.6 12.6m-12.6 0l12.6-12.6M1119.2 1316.5l12.6 12.6m-12.6 0l12.6-12.6M1180.0 1312.5l12.6 12.6m-12.6 0l12.6-12.6M1188.7 1318.5l12.6 12.6m-12.6 0l12.6-12.6M1186.0 1327.8l12.6 12.6m-12.6 0l12.6-12.6M1218.0 1323.2l12.6 12.6m-12.6 0l12.6-12.6M1054.4 1338.5l12.6 12.6m-12.6 0l12.6-12.6M1074.4 1343.2l12.6 12.6m-12.6 0l12.6-12.6M1083.1 1348.5l12.6 12.6m-12.6 0l12.6-12.6M1098.5 1339.9l12.6 12.6m-12.6 0l12.6-12.6M1099.1 1347.2l12.6 12.6m-12.6 0l12.6-12.6M1116.5 1337.8l12.6 12.6m-12.6 0l12.6-12.6M1139.9 1337.2l12.6 12.6m-12.6 0l12.6-12.6M1125.2 1349.2l12.6 12.6m-12.6 0l12.6-12.6M1102.5 1360.6l12.6 12.6m-12.6 0l12.6-12.6M1120.5 1359.9l12.6 12.6m-12.6 0l12.6-12.6M1145.9 1361.2l12.6 12.6m-12.6 0l12.6-12.6M1176.0 1366.6l12.6 12.6m-12.6 0l12.6-12.6M1189.3 1367.9l12.6 12.6m-12.6 0l12.6-12.6M1208.0 1359.2l12.6 12.6m-12.6 0l12.6-12.6M1055.7 1379.9l12.6 12.6m-12.6 0l12.6-12.6M1074.4 1383.3l12.6 12.6m-12.6 0l12.6-12.6M1087.8 1384.6l12.6 12.6m-12.6 0l12.6-12.6M1085.1 1393.3l12.6 12.6m-12.6 0l12.6-12.6M1103.8 1381.9l12.6 12.6m-12.6 0l12.6-12.6M1080.4 1412.7l12.6 12.6m-12.6 0l12.6-12.6M1116.5 1421.3l12.6 12.6m-12.6 0l12.6-12.6M1131.9 1421.3l12.6 12.6m-12.6 0l12.6-12.6M1049.2 1357.2l12.6 12.6m-12.6 0l12.6-12.6M924.0 1420.1l12.6 12.6m-12.6 0l12.6-12.6M839.2 1425.3l12.6 12.6m-12.6 0l12.6-12.6M929.4 1465.4l12.6 12.6m-12.6 0l12.6-12.6M944.6 1479.3l12.6 12.6m-12.6 0l12.6-12.6M918.1 1546.9l12.6 12.6m-12.6 0l12.6-12.6M922.7 1519.0l12.6 12.6m-12.6 0l12.6-12.6M886.2 1538.9l12.6 12.6m-12.6 0l12.6-12.6M1020.1 1477.2l12.6 12.6m-12.6 0l12.6-12.6M1049.8 1509.5l12.6 12.6m-12.6 0l12.6-12.6M1007.2 1523.9l12.6 12.6m-12.6 0l12.6-12.6M1115.9 1424.0l12.6 12.6m-12.6 0l12.6-12.6M1132.1 1424.0l12.6 12.6m-12.6 0l12.6-12.6M1080.7 1416.7l12.6 12.6m-12.6 0l12.6-12.6M966.0 1416.7l12.6 12.6m-12.6 0l12.6-12.6M982.2 1430.5l12.6 12.6m-12.6 0l12.6-12.6M913.4 1085.7l12.6 12.6m-12.6 0l12.6-12.6M986.7 1111.3l12.6 12.6m-12.6 0l12.6-12.6M1014.1 1102.5l12.6 12.6m-12.6 0l12.6-12.6M1044.4 1091.3l12.6 12.6m-12.6 0l12.6-12.6M920.3 1103.1l12.6 12.6m-12.6 0l12.6-12.6M879.1 1111.6l12.6 12.6m-12.6 0l12.6-12.6M1173.0 1030.3l12.6 12.6m-12.6 0l12.6-12.6M1166.6 1042.0l12.6 12.6m-12.6 0l12.6-12.6M1138.8 1045.8l12.6 12.6m-12.6 0l12.6-12.6M1136.7 1050.0l12.6 12.6m-12.6 0l12.6-12.6M1196.0 1018.0l12.6 12.6m-12.6 0l12.6-12.6M1113.2 1063.9l12.6 12.6m-12.6 0l12.6-12.6M1181.6 1059.7l12.6 12.6m-12.6 0l12.6-12.6M1186.9 1068.2l12.6 12.6m-12.6 0l12.6-12.6M1046.9 1090.7l12.6 12.6m-12.6 0l12.6-12.6M1101.4 1090.7l12.6 12.6m-12.6 0l12.6-12.6M1118.5 1088.5l12.6 12.6m-12.6 0l12.6-12.6M1122.8 1086.4l12.6 12.6m-12.6 0l12.6-12.6M1124.9 1094.9l12.6 12.6m-12.6 0l12.6-12.6M1134.6 1080.0l12.6 12.6m-12.6 0l12.6-12.6M1139.9 1077.8l12.6 12.6m-12.6 0l12.6-12.6M1137.8 1086.4l12.6 12.6m-12.6 0l12.6-12.6M1150.6 1082.1l12.6 12.6m-12.6 0l12.6-12.6M1155.9 1088.5l12.6 12.6m-12.6 0l12.6-12.6M1157.0 1082.1l12.6 12.6m-12.6 0l12.6-12.6M1151.7 1076.7l12.6 12.6m-12.6 0l12.6-12.6M1161.3 1094.9l12.6 12.6m-12.6 0l12.6-12.6M1145.2 1099.2l12.6 12.6m-12.6 0l12.6-12.6M1172.0 1073.6l12.6 12.6m-12.6 0l12.6-12.6M1193.3 1078.9l12.6 12.6m-12.6 0l12.6-12.6M1198.7 1088.5l12.6 12.6m-12.6 0l12.6-12.6M1184.8 1101.3l12.6 12.6m-12.6 0l12.6-12.6M1069.9 1109.9l12.6 12.6m-12.6 0l12.6-12.6M1070.7 1106.2l12.6 12.6m-12.6 0l12.6-12.6M1074.7 1112.2l12.6 12.6m-12.6 0l12.6-12.6M1091.3 1110.4l12.6 12.6m-12.6 0l12.6-12.6M1096.1 1106.7l12.6 12.6m-12.6 0l12.6-12.6M1129.2 1107.8l12.6 12.6m-12.6 0l12.6-12.6M1120.7 1102.4l12.6 12.6m-12.6 0l12.6-12.6M1176.2 1109.9l12.6 12.6m-12.6 0l12.6-12.6M1167.3 1060.9l12.6 12.6m-12.6 0l12.6-12.6M1059.1 1060.1l12.6 12.6m-12.6 0l12.6-12.6M585.8 1252.5l12.6 12.6m-12.6 0l12.6-12.6M638.6 1281.6l12.6 12.6m-12.6 0l12.6-12.6" stroke="#bebebe" stroke-width="1.9" stroke-linecap="round" fill="none"/>
<rect x="1000.8" y="978.1" width="12.6" height="12.6" fill="#00ff00"/>
<rect x="1021.2" y="955.0" width="12.6" height="12.6" fill="#00ff00"/>
<rect x="1085.5" y="1006.6" width="12.6" height="12.6" fill="#00ff00"/>
<rect x="1138.1" y="975.2" width="12.6" height="12.6" fill="#00ff00"/>
<rect x="1211.3" y="978.6" width="12.6" height="12.6" fill="#00ff00"/>
<rect x="1220.2" y="984.2" width="12.6" height="12.6" fill="#00ff00"/>
<rect x="1311.9" y="994.6" width="12.6" height="12.6" fill="#00ff00"/>
<rect x="1318.7" y="997.7" width="12.6" height="12.6" fill="#00ff00"/>
<rect x="1332.8" y="1009.5" width="12.6" height="12.6" fill="#00ff00"/>
<rect x="638.7" y="923.4" width="12.6" height="12.6" fill="#ff0000"/>
<rect x="846.2" y="956.4" width="12.6" height="12.6" fill="#ff0000"/>
<rect x="926.3" y="933.0" width="12.6" height="12.6" fill="#ff0000"/>
<rect x="897.5" y="1134.7" width="12.6" height="12.6" fill="none" stroke="#000000" stroke-width="2.2" stroke-linejoin="round"/>
<rect x="920.3" y="1103.1" width="12.6" height="12.6" fill="none" stroke="#000000" stroke-width="2.2" stroke-linejoin="round"/>
<rect x="967.4" y="1201.9" width="12.6" height="12.6" fill="none" stroke="#000000" stroke-width="2.2" stroke-linejoin="round"/>
<rect x="1013.2" y="1181.2" width="12.6" height="12.6" fill="none" stroke="#000000" stroke-width="2.2" stroke-linejoin="round"/>
<rect x="1001.7" y="1115.8" width="12.6" height="12.6" fill="none" stroke="#000000" stroke-width="2.2" stroke-linejoin="round"/>
<rect x="1024.7" y="1126.6" width="12.6" height="12.6" fill="none" stroke="#000000" stroke-width="2.2" stroke-linejoin="round"/>
<rect x="1041.7" y="1138.1" width="12.6" height="12.6" fill="none" stroke="#000000" stroke-width="2.2" stroke-linejoin="round"/>
<rect x="1035.0" y="1093.5" width="12.6" height="12.6" fill="none" stroke="#000000" stroke-width="2.2" stroke-linejoin="round"/>
<rect x="1059.1" y="1060.1" width="12.6" height="12.6" fill="none" stroke="#000000" stroke-width="2.2" stroke-linejoin="round"/>
<rect x="1052.4" y="1170.2" width="12.6" height="12.6" fill="none" stroke="#000000" stroke-width="2.2" stroke-linejoin="round"/>
<rect x="1051.1" y="1205.7" width="12.6" height="12.6" fill="none" stroke="#000000" stroke-width="2.2" stroke-linejoin="round"/>
<rect x="979.0" y="1317.0" width="12.6" height="12.6" fill="none" stroke="#000000" stroke-width="2.2" stroke-linejoin="round"/>
<rect x="1049.7" y="1404.0" width="12.6" height="12.6" fill="none" stroke="#000000" stroke-width="2.2" stroke-linejoin="round"/>
<rect x="1035.9" y="1415.5" width="12.6" height="12.6" fill="none" stroke="#000000" stroke-width="2.2" stroke-linejoin="round"/>
<rect x="1085.3" y="1137.6" width="12.6" height="12.6" fill="none" stroke="#000000" stroke-width="2.2" stroke-linejoin="round"/>
<rect x="1128.9" y="1148.0" width="12.6" height="12.6" fill="none" stroke="#000000" stroke-width="2.2" stroke-linejoin="round"/>
<rect x="1162.1" y="1146.0" width="12.6" height="12.6" fill="none" stroke="#000000" stroke-width="2.2" stroke-linejoin="round"/>
<rect x="1119.7" y="1164.7" width="12.6" height="12.6" fill="none" stroke="#000000" stroke-width="2.2" stroke-linejoin="round"/>
<rect x="1232.1" y="1159.0" width="12.6" height="12.6" fill="none" stroke="#000000" stroke-width="2.2" stroke-linejoin="round"/>
<rect x="1170.0" y="1185.0" width="12.6" height="12.6" fill="none" stroke="#000000" stroke-width="2.2" stroke-linejoin="round"/>
<rect x="1199.9" y="1199.7" width="12.6" height="12.6" fill="none" stroke="#000000" stroke-width="2.2" stroke-linejoin="round"/>
<rect x="1179.1" y="1209.4" width="12.6" height="12.6" fill="none" stroke="#000000" stroke-width="2.2" stroke-linejoin="round"/>
<rect x="1091.2" y="1197.1" width="12.6" height="12.6" fill="none" stroke="#000000" stroke-width="2.2" stroke-linejoin="round"/>
<rect x="1138.1" y="1227.4" width="12.6" height="12.6" fill="none" stroke="#000000" stroke-width="2.2" stroke-linejoin="round"/>
<rect x="1128.9" y="1234.4" width="12.6" height="12.6" fill="none" stroke="#000000" stroke-width="2.2" stroke-linejoin="round"/>
<rect x="1194.2" y="1258.6" width="12.6" height="12.6" fill="none" stroke="#000000" stroke-width="2.2" stroke-linejoin="round"/>
<rect x="1148.1" y="1055.9" width="12.6" height="12.6" fill="none" stroke="#000000" stroke-width="2.2" stroke-linejoin="round"/>
<rect x="1167.3" y="1060.9" width="12.6" height="12.6" fill="none" stroke="#000000" stroke-width="2.2" stroke-linejoin="round"/>
<rect x="1181.5" y="1080.7" width="12.6" height="12.6" fill="none" stroke="#000000" stroke-width="2.2" stroke-linejoin="round"/>
<rect x="1156.6" y="1112.0" width="12.6" height="12.6" fill="none" stroke="#000000" stroke-width="2.2" stroke-linejoin="round"/>
<rect x="1120.5" y="1118.1" width="12.6" height="12.6" fill="none" stroke="#000000" stroke-width="2.2" stroke-linejoin="round"/>
<rect x="1124.0" y="1116.8" width="12.6" height="12.6" fill="none" stroke="#000000" stroke-width="2.2" stroke-linejoin="round"/>
<rect x="1196.2" y="1113.6" width="12.6" height="12.6" fill="none" stroke="#000000" stroke-width="2.2" stroke-linejoin="round"/>
<rect x="1222.6" y="1117.9" width="12.6" height="12.6" fill="none" stroke="#000000" stroke-width="2.2" stroke-linejoin="round"/>
<rect x="1173.4" y="948.6" width="12.6" height="12.6" fill="none" stroke="#000000" stroke-width="2.2" stroke-linejoin="round"/>
<rect x="1122.9" y="1015.6" width="12.6" height="12.6" fill="none" stroke="#000000" stroke-width="2.2" stroke-linejoin="round"/>
<rect x="1292.6" y="1235.6" width="12.6" height="12.6" fill="none" stroke="#000000" stroke-width="2.2" stroke-linejoin="round"/>
<rect x="1339.7" y="1130.1" width="12.6" height="12.6" fill="none" stroke="#000000" stroke-width="2.2" stroke-linejoin="round"/>
<rect x="1332.8" y="1113.5" width="12.6" height="12.6" fill="none" stroke="#000000" stroke-width="2.2" stroke-linejoin="round"/>
<rect x="1328.3" y="1093.6" width="12.6" height="12.6" fill="none" stroke="#000000" stroke-width="2.2" stroke-linejoin="round"/>
<rect x="1315.4" y="1095.2" width="12.6" height="12.6" fill="none" stroke="#000000" stroke-width="2.2" stroke-linejoin="round"/>
<rect x="1256.0" y="1089.7" width="12.6" height="12.6" fill="none" stroke="#000000" stroke-width="2.2" stroke-linejoin="round"/>
<rect x="1198.7" y="1105.7" width="12.6" height="12.6" fill="none" stroke="#000000" stroke-width="2.2" stroke-linejoin="round"/>
<rect x="1196.7" y="1113.7" width="12.6" height="12.6" fill="none" stroke="#000000" stroke-width="2.2" stroke-linejoin="round"/>
<rect x="1391.3" y="1061.2" width="12.6" height="12.6" fill="none" stroke="#000000" stroke-width="2.2" stroke-linejoin="round"/>
<rect x="1384.3" y="1049.3" width="12.6" height="12.6" fill="none" stroke="#000000" stroke-width="2.2" stroke-linejoin="round"/>
<rect x="1332.9" y="1069.1" width="12.6" height="12.6" fill="none" stroke="#000000" stroke-width="2.2" stroke-linejoin="round"/>
<rect x="1297.5" y="1063.0" width="12.6" height="12.6" fill="none" stroke="#000000" stroke-width="2.2" stroke-linejoin="round"/>
<rect x="1301.9" y="1056.5" width="12.6" height="12.6" fill="none" stroke="#000000" stroke-width="2.2" stroke-linejoin="round"/>
<rect x="1306.3" y="1055.6" width="12.6" height="12.6" fill="none" stroke="#000000" stroke-width="2.2" stroke-linejoin="round"/>
<rect x="1321.4" y="1042.7" width="12.6" height="12.6" fill="none" stroke="#000000" stroke-width="2.2" stroke-linejoin="round"/>
<rect x="1327.0" y="1046.7" width="12.6" height="12.6" fill="none" stroke="#000000" stroke-width="2.2" stroke-linejoin="round"/>
<rect x="1265.1" y="973.4" width="12.6" height="12.6" fill="none" stroke="#000000" stroke-width="2.2" stroke-linejoin="round"/>
<rect x="1251.5" y="985.2" width="12.6" height="12.6" fill="none" stroke="#000000" stroke-width="2.2" stroke-linejoin="round"/>
<rect x="1279.1" y="1001.9" width="12.6" height="12.6" fill="none" stroke="#000000" stroke-width="2.2" stroke-linejoin="round"/>
<rect x="1249.1" y="1042.9" width="12.6" height="12.6" fill="none" stroke="#000000" stroke-width="2.2" stroke-linejoin="round"/>
<rect x="1287.9" y="1026.3" width="12.6" height="12.6" fill="none" stroke="#000000" stroke-width="2.2" stroke-linejoin="round"/>
<rect x="1279.9" y="1036.3" width="12.6" height="12.6" fill="none" stroke="#000000" stroke-width="2.2" stroke-linejoin="round"/>
<rect x="1287.1" y="1038.3" width="12.6" height="12.6" fill="none" stroke="#000000" stroke-width="2.2" stroke-linejoin="round"/>
<rect x="1272.3" y="1043.9" width="12.6" height="12.6" fill="none" stroke="#000000" stroke-width="2.2" stroke-linejoin="round"/>
<rect x="1310.2" y="1018.5" width="12.6" height="12.6" fill="none" stroke="#000000" stroke-width="2.2" stroke-linejoin="round"/>
<rect x="1318.0" y="972.6" width="12.6" height="12.6" fill="none" stroke="#000000" stroke-width="2.2" stroke-linejoin="round"/>
<rect x="1345.2" y="972.6" width="12.6" height="12.6" fill="none" stroke="#000000" stroke-width="2.2" stroke-linejoin="round"/>
<rect x="1324.0" y="990.4" width="12.6" height="12.6" fill="none" stroke="#000000" stroke-width="2.2" stroke-linejoin="round"/>
<rect x="1314.6" y="1034.9" width="12.6" height="12.6" fill="none" stroke="#000000" stroke-width="2.2" stroke-linejoin="round"/>
<rect x="729.8" y="1089.2" width="16" height="16" fill="none" stroke="#5f5f5f" stroke-width="2.2" stroke-linejoin="round"/>
<rect x="752.7" y="1137.4" width="16" height="16" fill="none" stroke="#5f5f5f" stroke-width="2.2" stroke-linejoin="round"/>
<rect x="877.4" y="1109.9" width="16" height="16" fill="none" stroke="#5f5f5f" stroke-width="2.2" stroke-linejoin="round"/>
<rect x="894.8" y="1164.1" width="16" height="16" fill="none" stroke="#5f5f5f" stroke-width="2.2" stroke-linejoin="round"/>
<rect x="890.1" y="1173.9" width="16" height="16" fill="none" stroke="#5f5f5f" stroke-width="2.2" stroke-linejoin="round"/>
<rect x="909.4" y="1211.3" width="16" height="16" fill="none" stroke="#5f5f5f" stroke-width="2.2" stroke-linejoin="round"/>
<rect x="953.1" y="1210.9" width="16" height="16" fill="none" stroke="#5f5f5f" stroke-width="2.2" stroke-linejoin="round"/>
<rect x="968.2" y="1212.0" width="16" height="16" fill="none" stroke="#5f5f5f" stroke-width="2.2" stroke-linejoin="round"/>
<rect x="939.2" y="1239.6" width="16" height="16" fill="none" stroke="#5f5f5f" stroke-width="2.2" stroke-linejoin="round"/>
<rect x="950.9" y="1258.3" width="16" height="16" fill="none" stroke="#5f5f5f" stroke-width="2.2" stroke-linejoin="round"/>
<rect x="1010.3" y="1199.4" width="16" height="16" fill="none" stroke="#5f5f5f" stroke-width="2.2" stroke-linejoin="round"/>
<rect x="1015.0" y="1210.3" width="16" height="16" fill="none" stroke="#5f5f5f" stroke-width="2.2" stroke-linejoin="round"/>
<rect x="1049.4" y="1177.9" width="16" height="16" fill="none" stroke="#5f5f5f" stroke-width="2.2" stroke-linejoin="round"/>
<rect x="1077.9" y="1242.4" width="16" height="16" fill="none" stroke="#5f5f5f" stroke-width="2.2" stroke-linejoin="round"/>
<rect x="1168.3" y="1257.1" width="16" height="16" fill="none" stroke="#5f5f5f" stroke-width="2.2" stroke-linejoin="round"/>
<rect x="951.7" y="1286.2" width="16" height="16" fill="none" stroke="#5f5f5f" stroke-width="2.2" stroke-linejoin="round"/>
<rect x="974.9" y="1295.8" width="16" height="16" fill="none" stroke="#5f5f5f" stroke-width="2.2" stroke-linejoin="round"/>
<rect x="969.2" y="1300.2" width="16" height="16" fill="none" stroke="#5f5f5f" stroke-width="2.2" stroke-linejoin="round"/>
<rect x="1047.3" y="1292.2" width="16" height="16" fill="none" stroke="#5f5f5f" stroke-width="2.2" stroke-linejoin="round"/>
<rect x="1022.9" y="1350.7" width="16" height="16" fill="none" stroke="#5f5f5f" stroke-width="2.2" stroke-linejoin="round"/>
<rect x="1047.5" y="1355.5" width="16" height="16" fill="none" stroke="#5f5f5f" stroke-width="2.2" stroke-linejoin="round"/>
<rect x="980.6" y="1428.3" width="16" height="16" fill="none" stroke="#5f5f5f" stroke-width="2.2" stroke-linejoin="round"/>
<rect x="1102.1" y="1380.2" width="16" height="16" fill="none" stroke="#5f5f5f" stroke-width="2.2" stroke-linejoin="round"/>
<rect x="921.0" y="1517.3" width="16" height="16" fill="none" stroke="#5f5f5f" stroke-width="2.2" stroke-linejoin="round"/>
<rect x="884.5" y="1537.2" width="16" height="16" fill="none" stroke="#5f5f5f" stroke-width="2.2" stroke-linejoin="round"/>
<rect x="1066.3" y="960.8" width="16" height="16" fill="none" stroke="#a12a2a" stroke-width="2.2" stroke-linejoin="round"/>
<rect x="1123.8" y="962.8" width="16" height="16" fill="none" stroke="#a12a2a" stroke-width="2.2" stroke-linejoin="round"/>
<rect x="1066.3" y="996.6" width="16" height="16" fill="none" stroke="#a12a2a" stroke-width="2.2" stroke-linejoin="round"/>
<rect x="1036.5" y="1004.4" width="16" height="16" fill="none" stroke="#a12a2a" stroke-width="2.2" stroke-linejoin="round"/>
<rect x="1115.4" y="995.0" width="16" height="16" fill="none" stroke="#a12a2a" stroke-width="2.2" stroke-linejoin="round"/>
<rect x="1183.3" y="1002.5" width="16" height="16" fill="none" stroke="#a12a2a" stroke-width="2.2" stroke-linejoin="round"/>
<rect x="1199.5" y="1031.9" width="16" height="16" fill="none" stroke="#a12a2a" stroke-width="2.2" stroke-linejoin="round"/>
<rect x="1219.9" y="968.1" width="16" height="16" fill="none" stroke="#a12a2a" stroke-width="2.2" stroke-linejoin="round"/>
<rect x="1237.1" y="965.9" width="16" height="16" fill="none" stroke="#a12a2a" stroke-width="2.2" stroke-linejoin="round"/>
<rect x="1301.5" y="1014.4" width="16" height="16" fill="none" stroke="#ff9f00" stroke-width="2.2" stroke-linejoin="round"/>
<rect x="1267.0" y="1051.4" width="16" height="16" fill="none" stroke="#ff9f00" stroke-width="2.2" stroke-linejoin="round"/>
<rect x="1210.9" y="1072.2" width="16" height="16" fill="none" stroke="#ff9f00" stroke-width="2.2" stroke-linejoin="round"/>
<rect x="1241.7" y="1092.9" width="16" height="16" fill="none" stroke="#ff9f00" stroke-width="2.2" stroke-linejoin="round"/>
<rect x="1248.4" y="1110.4" width="16" height="16" fill="none" stroke="#ff9f00" stroke-width="2.2" stroke-linejoin="round"/>
<rect x="1210.9" y="1117.2" width="16" height="16" fill="none" stroke="#ff9f00" stroke-width="2.2" stroke-linejoin="round"/>
<rect x="1220.1" y="1116.2" width="16" height="16" fill="none" stroke="#ff9f00" stroke-width="2.2" stroke-linejoin="round"/>
<rect x="1295.4" y="1116.4" width="16" height="16" fill="none" stroke="#ff9f00" stroke-width="2.2" stroke-linejoin="round"/>
<rect x="1289.8" y="1121.5" width="16" height="16" fill="none" stroke="#ff9f00" stroke-width="2.2" stroke-linejoin="round"/>
<rect x="1296.7" y="1125.6" width="16" height="16" fill="none" stroke="#ff9f00" stroke-width="2.2" stroke-linejoin="round"/>
<rect x="1327.5" y="1113.9" width="16" height="16" fill="none" stroke="#ff9f00" stroke-width="2.2" stroke-linejoin="round"/>
<rect x="1289.6" y="1149.2" width="16" height="16" fill="none" stroke="#ff9f00" stroke-width="2.2" stroke-linejoin="round"/>
<rect x="1309.3" y="1161.6" width="16" height="16" fill="none" stroke="#ff9f00" stroke-width="2.2" stroke-linejoin="round"/>
<rect x="1178.4" y="1088.9" width="16" height="16" fill="none" stroke="#ff9f00" stroke-width="2.2" stroke-linejoin="round"/>
<rect x="1161.1" y="1110.3" width="16" height="16" fill="none" stroke="#ff9f00" stroke-width="2.2" stroke-linejoin="round"/>
<rect x="1177.5" y="1230.9" width="16" height="16" fill="none" stroke="#ff9f00" stroke-width="2.2" stroke-linejoin="round"/>
<rect x="1345.9" y="951.5" width="16" height="16" fill="none" stroke="#4a7fb5" stroke-width="2.2" stroke-linejoin="round"/>
<rect x="1356.5" y="961.5" width="16" height="16" fill="none" stroke="#4a7fb5" stroke-width="2.2" stroke-linejoin="round"/>
<rect x="1327.7" y="967.0" width="16" height="16" fill="none" stroke="#4a7fb5" stroke-width="2.2" stroke-linejoin="round"/>
<rect x="1350.7" y="974.6" width="16" height="16" fill="none" stroke="#4a7fb5" stroke-width="2.2" stroke-linejoin="round"/>
<rect x="1328.9" y="986.7" width="16" height="16" fill="none" stroke="#4a7fb5" stroke-width="2.2" stroke-linejoin="round"/>
<rect x="1310.5" y="990.4" width="16" height="16" fill="none" stroke="#4a7fb5" stroke-width="2.2" stroke-linejoin="round"/>
<rect x="1325.3" y="1008.0" width="16" height="16" fill="none" stroke="#4a7fb5" stroke-width="2.2" stroke-linejoin="round"/>
<rect x="1339.1" y="1008.7" width="16" height="16" fill="none" stroke="#4a7fb5" stroke-width="2.2" stroke-linejoin="round"/>
<rect x="1354.7" y="1010.6" width="16" height="16" fill="none" stroke="#4a7fb5" stroke-width="2.2" stroke-linejoin="round"/>
<rect x="1353.0" y="1016.7" width="16" height="16" fill="none" stroke="#4a7fb5" stroke-width="2.2" stroke-linejoin="round"/>
<rect x="1318.5" y="1041.0" width="16" height="16" fill="none" stroke="#4a7fb5" stroke-width="2.2" stroke-linejoin="round"/>
<rect x="1333.3" y="1053.1" width="16" height="16" fill="none" stroke="#4a7fb5" stroke-width="2.2" stroke-linejoin="round"/>
<path d="M1103.2 993.6L1119.2 993.6L1111.2 980.1Z" fill="none" stroke="#000" stroke-width="2.2" stroke-linejoin="miter"/>
<path d="M1112.6 1016.1L1128.6 1016.1L1120.6 1002.6Z" fill="none" stroke="#000" stroke-width="2.2" stroke-linejoin="miter"/>
<path d="M1156.9 1038.4L1172.9 1038.4L1164.9 1024.9Z" fill="none" stroke="#000" stroke-width="2.2" stroke-linejoin="miter"/>
<path d="M1218.8 1002.5L1234.8 1002.5L1226.8 989.0Z" fill="none" stroke="#000" stroke-width="2.2" stroke-linejoin="miter"/>
<path d="M1259.1 1031.1L1275.1 1031.1L1267.1 1017.6Z" fill="none" stroke="#000" stroke-width="2.2" stroke-linejoin="miter"/>
<circle cx="720.2" cy="1027.4" r="7.6" fill="#ffc0cb"/><text x="720.2" y="1032.7" font-size="15" text-anchor="middle" fill="#111">5</text>
<circle cx="903.7" cy="1053.5" r="7.6" fill="#ffc0cb"/><text x="903.7" y="1058.8" font-size="15" text-anchor="middle" fill="#111">4</text>
<circle cx="866.2" cy="1138.4" r="7.6" fill="#ffc0cb"/><text x="866.2" y="1143.7" font-size="15" text-anchor="middle" fill="#111">3</text>
<circle cx="773.2" cy="1187" r="7.6" fill="#ffc0cb"/><text x="773.2" y="1192.3" font-size="15" text-anchor="middle" fill="#111">2</text>
<circle cx="607.1" cy="1287.4" r="7.6" fill="#ffc0cb"/><text x="607.1" y="1292.7" font-size="15" text-anchor="middle" fill="#111">1</text>
<circle cx="592.1" cy="1258.8" r="8.9" fill="none" stroke="#000" stroke-width="2.3"/>
<circle cx="644.9" cy="1287.9" r="8.9" fill="none" stroke="#000" stroke-width="2.3"/>
<circle cx="664.7" cy="1305.5" r="8.9" fill="none" stroke="#000" stroke-width="2.3"/>
<line x1="571.1" y1="1240.9" x2="583.6" y2="1250.4" stroke="#555" stroke-width="2"/>
<line x1="636.1" y1="1296.7" x2="623.7" y2="1305.8" stroke="#555" stroke-width="2"/>
<line x1="673.2" y1="1313.6" x2="685.7" y2="1323.2" stroke="#555" stroke-width="2"/>
<line x1="907.5" y1="1507.7" x2="920.4" y2="1517.5" stroke="#555" stroke-width="2"/>
<line x1="871.2" y1="1527.2" x2="883.7" y2="1536.3" stroke="#555" stroke-width="2"/>
<text x="494.7" y="1236.2" font-size="20" font-weight="bold">Gros Manseng</text>
<text x="486.2" y="1320.5" font-size="20" font-weight="bold">Petit Manseng</text>
<text x="648" y="1338.1" font-size="20" font-weight="bold">Riesling Bleu</text>
<text x="756.9" y="1502.5" font-size="20" font-weight="bold">Savagnin Blanc</text>
<text x="776.7" y="1523.8" font-size="20" font-weight="bold">Pinot Noir</text>
<rect x="150.2" y="459.6" width="11.5" height="11.5" fill="none" stroke="#5f5f5f" stroke-width="2.2" stroke-linejoin="round"/>
<text x="172.3" y="471.3" font-size="24"><tspan fill="#5f5f5f">Alpine wine grapes</tspan></text>
<rect x="150.2" y="488.4" width="11.5" height="11.5" fill="none" stroke="#ff9f00" stroke-width="2.2" stroke-linejoin="round"/>
<text x="172.3" y="500.1" font-size="24"><tspan fill="#ff9f00">Balkans and </tspan><tspan fill="#ff9f00" font-style="italic">Magna Graecia</tspan></text>
<rect x="150.2" y="517.8" width="11.5" height="11.5" fill="none" stroke="#a12a2a" stroke-width="2.2" stroke-linejoin="round"/>
<text x="172.3" y="529.5" font-size="24"><tspan fill="#a12a2a">Caucasian wine grapes</tspan></text>
<rect x="150.2" y="546.5" width="11.5" height="11.5" fill="none" stroke="#4a7fb5" stroke-width="2.2" stroke-linejoin="round"/>
<text x="172.3" y="558.3" font-size="24"><tspan fill="#4a7fb5">Table grapes</tspan></text>
<rect x="150.2" y="578.5" width="11.5" height="11.5" fill="none" stroke="#000000" stroke-width="2.2" stroke-linejoin="round"/>
<text x="172.3" y="590.3" font-size="24"><tspan fill="#000000">admixed</tspan></text>
<rect x="150.5" y="605.7" width="11" height="11" fill="#a020f0"/>
<text x="172.3" y="617.2" font-size="24"><tspan fill="#a020f0">Western </tspan><tspan fill="#a020f0" font-style="italic">sylvestris</tspan></text>
<rect x="150.5" y="636.8" width="11" height="11" fill="#ee82ee"/>
<text x="172.3" y="648.3" font-size="24"><tspan fill="#ee82ee">Western feral</tspan></text>
<rect x="150.5" y="663.7" width="11" height="11" fill="#ff0000"/>
<text x="172.3" y="675.2" font-size="24"><tspan fill="#ff0000">Eastern </tspan><tspan fill="#ff0000" font-style="italic">sylvestris</tspan></text>
<rect x="150.5" y="695.0" width="11" height="11" fill="#00ff00"/>
<text x="172.3" y="706.5" font-size="24"><tspan fill="#00ff00">Eastern feral</tspan></text>
<rect x="150.5" y="721.5" width="11" height="11" fill="#ffc0cb"/>
<text x="172.3" y="733.0" font-size="24"><tspan fill="#ffc0cb">"faux sauvage"</tspan></text>
<rect x="150.2" y="1227.2" width="11.5" height="11.5" fill="none" stroke="#5f5f5f" stroke-width="2.2" stroke-linejoin="round"/>
<text x="172.3" y="1238.9" font-size="24"><tspan fill="#5f5f5f">Alpine wine grapes</tspan></text>
<rect x="150.2" y="1256.0" width="11.5" height="11.5" fill="none" stroke="#ff9f00" stroke-width="2.2" stroke-linejoin="round"/>
<text x="172.3" y="1267.7" font-size="24"><tspan fill="#ff9f00">Balkans and </tspan><tspan fill="#ff9f00" font-style="italic">Magna Graecia</tspan></text>
<rect x="150.2" y="1285.3" width="11.5" height="11.5" fill="none" stroke="#a12a2a" stroke-width="2.2" stroke-linejoin="round"/>
<text x="172.3" y="1297.1" font-size="24"><tspan fill="#a12a2a">Caucasian wine grapes</tspan></text>
<rect x="150.2" y="1314.2" width="11.5" height="11.5" fill="none" stroke="#4a7fb5" stroke-width="2.2" stroke-linejoin="round"/>
<text x="172.3" y="1325.9" font-size="24"><tspan fill="#4a7fb5">Table grapes</tspan></text>
<rect x="150.2" y="1346.2" width="11.5" height="11.5" fill="none" stroke="#000000" stroke-width="2.2" stroke-linejoin="round"/>
<text x="172.3" y="1357.9" font-size="24"><tspan fill="#000000">admixed</tspan></text>
<rect x="150.5" y="1373.3" width="11" height="11" fill="#a020f0"/>
<text x="172.3" y="1384.8000000000002" font-size="24"><tspan fill="#a020f0">Western </tspan><tspan fill="#a020f0" font-style="italic">sylvestris</tspan></text>
<rect x="150.5" y="1404.4" width="11" height="11" fill="#ee82ee"/>
<text x="172.3" y="1415.9" font-size="24"><tspan fill="#ee82ee">Western feral</tspan></text>
<rect x="150.5" y="1431.3" width="11" height="11" fill="#ff0000"/>
<text x="172.3" y="1442.8000000000002" font-size="24"><tspan fill="#ff0000">Eastern </tspan><tspan fill="#ff0000" font-style="italic">sylvestris</tspan></text>
<rect x="150.5" y="1462.6" width="11" height="11" fill="#00ff00"/>
<text x="172.3" y="1474.1" font-size="24"><tspan fill="#00ff00">Eastern feral</tspan></text>
<circle cx="156" cy="1494.6" r="6.5" fill="#ffc0cb"/>
<text x="172.3" y="1500.6" font-size="24"><tspan fill="#ffc0cb">"faux sauvage"</tspan></text>
<path d="M150.5 1520.8l11 11m-11 0l11-11" stroke="#bebebe" stroke-width="1.8" stroke-linecap="round" fill="none"/>
<text x="172.3" y="1532.3" font-size="24"><tspan fill="#bebebe">sativa</tspan></text>
<path d="M149 1559.7L163 1559.7L156 1546.7Z" fill="none" stroke="#000" stroke-width="2"/>
<text x="172.3" y="1558.7" font-size="24"><tspan fill="#000">Ramishvili collection (De Lorenzis </tspan><tspan fill="#000" font-style="italic">et al.</tspan><tspan fill="#000"> 2015)</tspan></text>
<text x="148" y="1588.8" font-size="26" font-family="Liberation Serif">αβ</text>
<text x="186.7" y="1588.8" font-size="24"><tspan font-style="italic">sylvestris</tspan><tspan> (</tspan><tspan fill="#00c5cd">De Lorenzis <tspan font-style="italic">et al.</tspan> 2015</tspan><tspan>, Marrano </tspan><tspan font-style="italic">et al.</tspan><tspan> 2018, </tspan><tspan fill="#228b22">Ramos-Madrigal <tspan font-style="italic">et al.</tspan> 2019</tspan><tspan>)</tspan></text>
</svg></body></html>
